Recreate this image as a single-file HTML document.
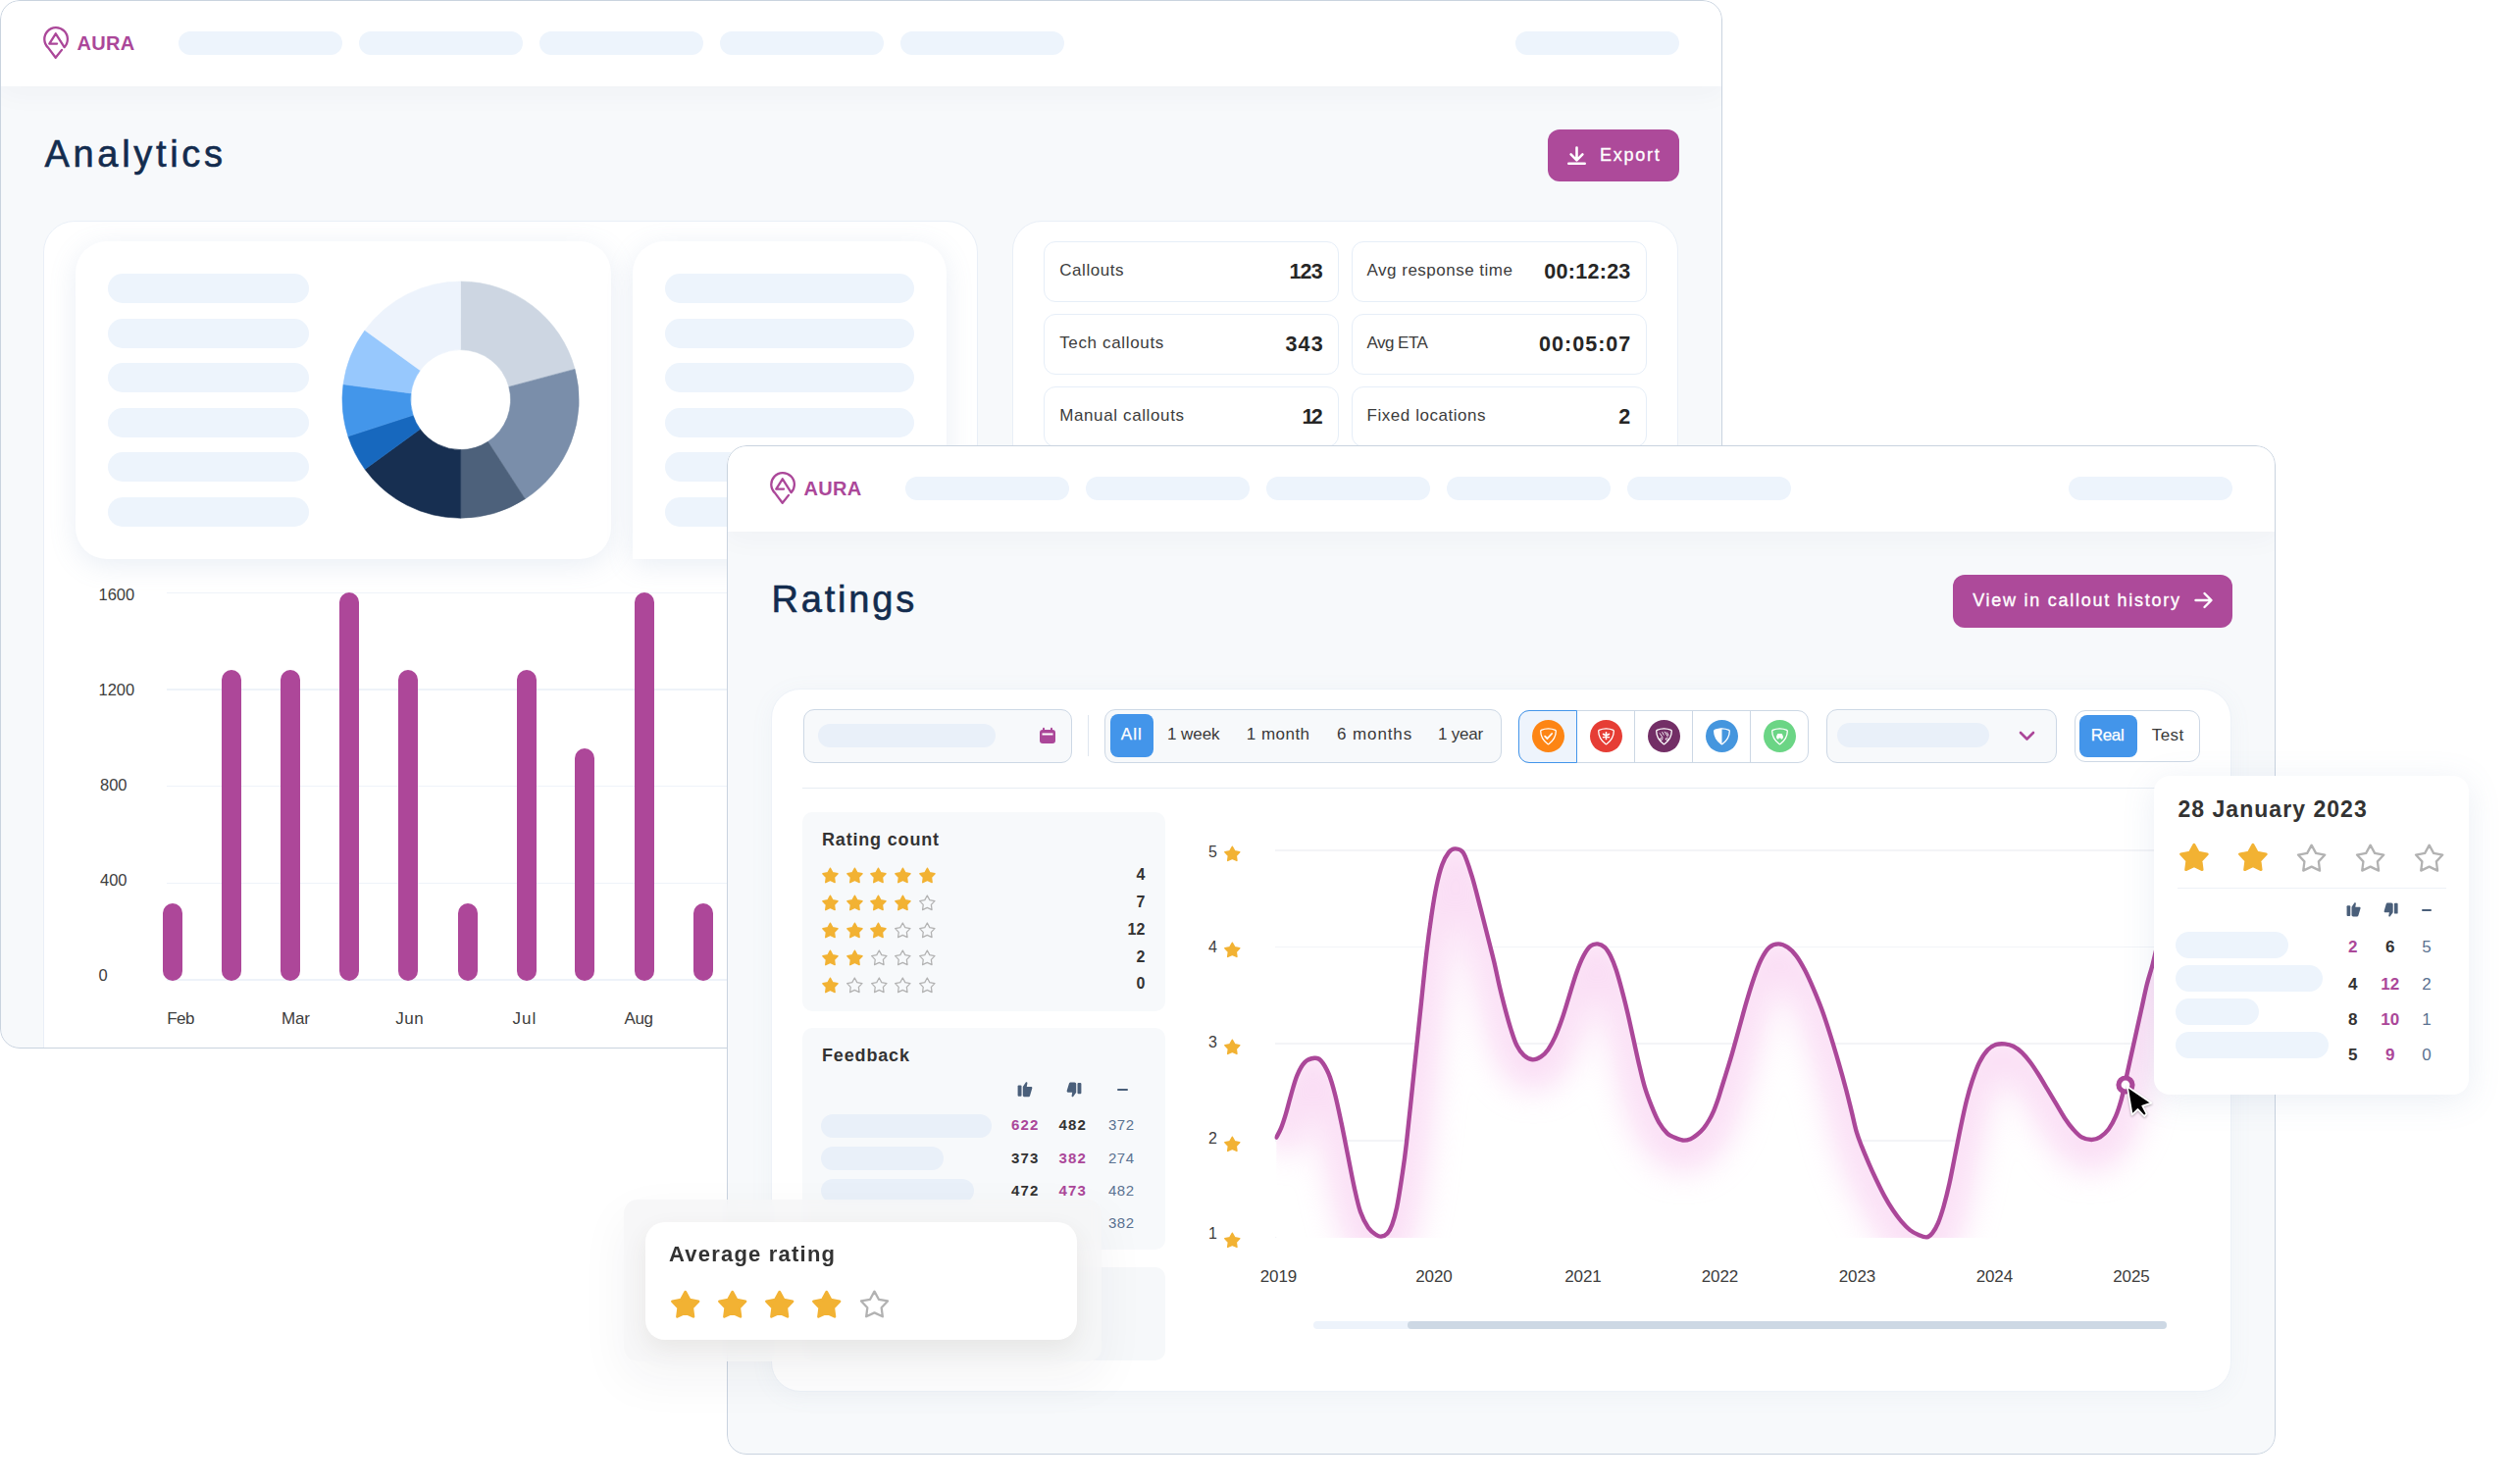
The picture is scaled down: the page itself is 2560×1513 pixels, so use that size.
<!DOCTYPE html>
<html><head><meta charset="utf-8"><title>Aura analytics</title>
<style>
*{box-sizing:border-box;margin:0;padding:0}
html,body{width:2560px;height:1513px;overflow:hidden;background:#fff}
body{position:relative;font-family:"Liberation Sans",Arial,sans-serif;}
.b{position:absolute;display:block}
.t{position:absolute;white-space:nowrap}
.win{position:absolute;overflow:hidden;border-radius:20px;background:#f7f9fb;isolation:isolate}
.wb{position:absolute;left:0;top:0;right:0;bottom:0;border:1.2px solid #c9d3df;border-radius:20px;pointer-events:none;z-index:50}
</style></head><body>

<div class="win" style="left:0px;top:0px;width:1756px;height:1069px;">
<div class="b" style="left:0px;top:0px;width:1756px;height:88px;background:#fff;box-shadow:0 6px 30px rgba(40,60,90,0.04);"></div>
<svg class="b" style="left:42px;top:26px;" width="30" height="36" viewBox="0 0 30 36"><path d="M21 24.9 L14.7 32.8 L7.1 22.6 A11.8 11.8 0 1 1 23.6 22.1 L14.8 8.3 L8.3 18.6 L16.1 18.6" fill="none" stroke="#ab4799" stroke-width="2.3" stroke-linejoin="round" stroke-linecap="round"/></svg>
<div class="t" style="left:78.5px;top:34.17px;font-size:20px;line-height:20px;color:#ab4799;font-weight:700;letter-spacing:0.32px;">AURA</div>
<div class="b" style="left:182px;top:32px;width:167px;height:24px;background:#edf4fc;border-radius:12px;"></div>
<div class="b" style="left:365.9px;top:32px;width:167px;height:24px;background:#edf4fc;border-radius:12px;"></div>
<div class="b" style="left:549.8px;top:32px;width:167px;height:24px;background:#edf4fc;border-radius:12px;"></div>
<div class="b" style="left:733.7px;top:32px;width:167px;height:24px;background:#edf4fc;border-radius:12px;"></div>
<div class="b" style="left:917.6px;top:32px;width:167px;height:24px;background:#edf4fc;border-radius:12px;"></div>
<div class="b" style="left:1545px;top:32px;width:167px;height:24px;background:#edf4fc;border-radius:12px;"></div>
<div class="t" style="left:45.5px;top:137.63px;font-size:38px;line-height:38px;color:#132c4e;letter-spacing:3.68px;-webkit-text-stroke:0.6px #132c4e;">Analytics</div>
<div class="b" style="left:1578px;top:132px;width:134px;height:53px;background:#ad4a9a;border-radius:12px;"></div>
<svg class="b" style="left:1596px;top:148px;" width="22" height="22" viewBox="0 0 22 22"><path d="M11.5 2.5V14.8M5.6 9.4L11.5 15.3L17.4 9.4M3.3 18.8H19.7" fill="none" stroke="#fff" stroke-width="2.6" stroke-linecap="round" stroke-linejoin="round"/></svg>
<div class="t" style="left:1631px;top:148.96px;font-size:18px;line-height:18px;color:#fff;letter-spacing:1.73px;-webkit-text-stroke:0.35px #fff;">Export</div>
<div class="b" style="left:44px;top:225px;width:953px;height:875px;background:#fff;border:1px solid #e9eff7;border-radius:32px;"></div>
<div class="b" style="left:77px;top:245.5px;width:546px;height:324px;background:#fff;border-radius:32px;box-shadow:0 6px 28px rgba(120,150,190,0.16);"></div>
<div class="b" style="left:645px;top:245.5px;width:320px;height:324px;background:#fff;border-radius:32px 32px 32px 0;box-shadow:0 6px 28px rgba(120,150,190,0.16);"></div>
<div class="b" style="left:109.7px;top:278.9px;width:205.6px;height:30px;background:#edf4fc;border-radius:15px;"></div>
<div class="b" style="left:677.6px;top:278.9px;width:254px;height:30px;background:#edf4fc;border-radius:15px;"></div>
<div class="b" style="left:109.7px;top:324.5px;width:205.6px;height:30px;background:#edf4fc;border-radius:15px;"></div>
<div class="b" style="left:677.6px;top:324.5px;width:254px;height:30px;background:#edf4fc;border-radius:15px;"></div>
<div class="b" style="left:109.7px;top:370.1px;width:205.6px;height:30px;background:#edf4fc;border-radius:15px;"></div>
<div class="b" style="left:677.6px;top:370.1px;width:254px;height:30px;background:#edf4fc;border-radius:15px;"></div>
<div class="b" style="left:109.7px;top:415.7px;width:205.6px;height:30px;background:#edf4fc;border-radius:15px;"></div>
<div class="b" style="left:677.6px;top:415.7px;width:254px;height:30px;background:#edf4fc;border-radius:15px;"></div>
<div class="b" style="left:109.7px;top:461.3px;width:205.6px;height:30px;background:#edf4fc;border-radius:15px;"></div>
<div class="b" style="left:677.6px;top:461.3px;width:254px;height:30px;background:#edf4fc;border-radius:15px;"></div>
<div class="b" style="left:109.7px;top:506.9px;width:205.6px;height:30px;background:#edf4fc;border-radius:15px;"></div>
<div class="b" style="left:677.6px;top:506.9px;width:254px;height:30px;background:#edf4fc;border-radius:15px;"></div>
<svg class="b" style="left:347.6px;top:285.8px;" width="243.2" height="243.2" viewBox="0 0 243.2 243.2"><path d="M121.60 1.00A120.60 120.60 0 0 1 238.09 90.39L170.86 108.40A51.00 51.00 0 0 0 121.60 70.60Z" fill="#cdd6e2" stroke="#cdd6e2" stroke-width="0.6"/><path d="M238.09 90.39A120.60 120.60 0 0 1 187.28 222.74L149.38 164.37A51.00 51.00 0 0 0 170.86 108.40Z" fill="#7a8eaa" stroke="#7a8eaa" stroke-width="0.6"/><path d="M187.28 222.74A120.60 120.60 0 0 1 121.60 242.20L121.60 172.60A51.00 51.00 0 0 0 149.38 164.37Z" fill="#4d617b" stroke="#4d617b" stroke-width="0.6"/><path d="M121.60 242.20A120.60 120.60 0 0 1 24.03 192.49L80.34 151.58A51.00 51.00 0 0 0 121.60 172.60Z" fill="#172f51" stroke="#172f51" stroke-width="0.6"/><path d="M24.03 192.49A120.60 120.60 0 0 1 6.90 158.87L73.10 137.36A51.00 51.00 0 0 0 80.34 151.58Z" fill="#1768be" stroke="#1768be" stroke-width="0.6"/><path d="M6.90 158.87A120.60 120.60 0 0 1 2.03 105.86L71.04 114.94A51.00 51.00 0 0 0 73.10 137.36Z" fill="#4396ea" stroke="#4396ea" stroke-width="0.6"/><path d="M2.03 105.86A120.60 120.60 0 0 1 24.03 50.71L80.34 91.62A51.00 51.00 0 0 0 71.04 114.94Z" fill="#97c8fd" stroke="#97c8fd" stroke-width="0.6"/><path d="M24.03 50.71A120.60 120.60 0 0 1 121.58 1.00L121.59 70.60A51.00 51.00 0 0 0 80.34 91.62Z" fill="#edf3fc" stroke="#edf3fc" stroke-width="0.6"/></svg>
<div class="b" style="left:170px;top:603.75px;width:820px;height:1.5px;background:#eef3f9;"></div>
<div class="b" style="left:170px;top:702.35px;width:820px;height:1.5px;background:#eef3f9;"></div>
<div class="b" style="left:170px;top:800.95px;width:820px;height:1.5px;background:#eef3f9;"></div>
<div class="b" style="left:170px;top:899.65px;width:820px;height:1.5px;background:#eef3f9;"></div>
<div class="b" style="left:170px;top:998.25px;width:820px;height:1.5px;background:#eef3f9;"></div>
<div class="t" style="left:100.5px;top:597.63px;font-size:16.5px;line-height:16.5px;color:#3d3d3d;">1600</div>
<div class="t" style="left:100.5px;top:694.73px;font-size:16.5px;line-height:16.5px;color:#3d3d3d;">1200</div>
<div class="t" style="left:102px;top:791.83px;font-size:16.5px;line-height:16.5px;color:#3d3d3d;">800</div>
<div class="t" style="left:102px;top:888.53px;font-size:16.5px;line-height:16.5px;color:#3d3d3d;">400</div>
<div class="t" style="left:100.5px;top:985.93px;font-size:16.5px;line-height:16.5px;color:#3d3d3d;">0</div>
<div class="b" style="left:166.3px;top:921px;width:20px;height:79px;background:#ad4799;border-radius:10px;"></div>
<div class="b" style="left:226.2px;top:683px;width:20px;height:317px;background:#ad4799;border-radius:10px;"></div>
<div class="b" style="left:286.1px;top:683px;width:20px;height:317px;background:#ad4799;border-radius:10px;"></div>
<div class="b" style="left:346.4px;top:604px;width:20px;height:396px;background:#ad4799;border-radius:10px;"></div>
<div class="b" style="left:406.3px;top:683px;width:20px;height:317px;background:#ad4799;border-radius:10px;"></div>
<div class="b" style="left:466.6px;top:921px;width:20px;height:79px;background:#ad4799;border-radius:10px;"></div>
<div class="b" style="left:526.5px;top:683px;width:20px;height:317px;background:#ad4799;border-radius:10px;"></div>
<div class="b" style="left:586.4px;top:763px;width:20px;height:237px;background:#ad4799;border-radius:10px;"></div>
<div class="b" style="left:646.7px;top:604px;width:20px;height:396px;background:#ad4799;border-radius:10px;"></div>
<div class="b" style="left:706.6px;top:921px;width:20px;height:79px;background:#ad4799;border-radius:10px;"></div>
<div class="t" style="left:170.3px;top:1029.91px;font-size:17px;line-height:17px;color:#3d3d3d;letter-spacing:-0.6px;">Feb</div>
<div class="t" style="left:287px;top:1029.91px;font-size:17px;line-height:17px;color:#3d3d3d;letter-spacing:-0.23px;">Mar</div>
<div class="t" style="left:403.3px;top:1029.91px;font-size:17px;line-height:17px;color:#3d3d3d;letter-spacing:0.5px;">Jun</div>
<div class="t" style="left:522.5px;top:1029.91px;font-size:17px;line-height:17px;color:#3d3d3d;letter-spacing:1.03px;">Jul</div>
<div class="t" style="left:636.4px;top:1029.91px;font-size:17px;line-height:17px;color:#3d3d3d;letter-spacing:-0.32px;">Aug</div>
<div class="b" style="left:1031.5px;top:225px;width:679.5px;height:875px;background:#fff;border:1px solid #e9eff7;border-radius:30px;"></div>
<div class="b" style="left:1064px;top:246px;width:301px;height:61.5px;background:#fff;border:1.3px solid #e6eef8;border-radius:12px;"></div>
<div class="b" style="left:1377.6px;top:246px;width:301px;height:61.5px;background:#fff;border:1.3px solid #e6eef8;border-radius:12px;"></div>
<div class="t" style="left:1080.2px;top:267.41px;font-size:17px;line-height:17px;color:#3c3c3c;letter-spacing:0.57px;">Callouts</div>
<div class="t" style="left:1393.6px;top:267.41px;font-size:17px;line-height:17px;color:#3c3c3c;letter-spacing:0.49px;">Avg response time</div>
<div class="t" style="left:1314.5px;top:267px;font-size:21.5px;line-height:21.5px;color:#262626;font-weight:700;letter-spacing:-0.88px;">123</div>
<div class="t" style="left:1574.3px;top:267px;font-size:21.5px;line-height:21.5px;color:#262626;font-weight:700;letter-spacing:0.28px;">00:12:23</div>
<div class="b" style="left:1064px;top:320px;width:301px;height:61.5px;background:#fff;border:1.3px solid #e6eef8;border-radius:12px;"></div>
<div class="b" style="left:1377.6px;top:320px;width:301px;height:61.5px;background:#fff;border:1.3px solid #e6eef8;border-radius:12px;"></div>
<div class="t" style="left:1080.2px;top:341.41px;font-size:17px;line-height:17px;color:#3c3c3c;letter-spacing:0.65px;">Tech callouts</div>
<div class="t" style="left:1393.6px;top:341.41px;font-size:17px;line-height:17px;color:#3c3c3c;letter-spacing:-0.55px;">Avg ETA</div>
<div class="t" style="left:1310.5px;top:341px;font-size:21.5px;line-height:21.5px;color:#262626;font-weight:700;letter-spacing:1.12px;">343</div>
<div class="t" style="left:1569.1px;top:341px;font-size:21.5px;line-height:21.5px;color:#262626;font-weight:700;letter-spacing:1.02px;">00:05:07</div>
<div class="b" style="left:1064px;top:394px;width:301px;height:61.5px;background:#fff;border:1.3px solid #e6eef8;border-radius:12px;"></div>
<div class="b" style="left:1377.6px;top:394px;width:301px;height:61.5px;background:#fff;border:1.3px solid #e6eef8;border-radius:12px;"></div>
<div class="t" style="left:1080.2px;top:415.41px;font-size:17px;line-height:17px;color:#3c3c3c;letter-spacing:0.62px;">Manual callouts</div>
<div class="t" style="left:1393.6px;top:415.41px;font-size:17px;line-height:17px;color:#3c3c3c;letter-spacing:0.54px;">Fixed locations</div>
<div class="t" style="left:1327.4px;top:415px;font-size:21.5px;line-height:21.5px;color:#262626;font-weight:700;letter-spacing:-2.71px;">12</div>
<div class="t" style="left:1650.35px;top:415px;font-size:21.5px;line-height:21.5px;color:#262626;font-weight:700;">2</div>
<div class="wb"></div></div>
<div class="win" style="left:741px;top:454px;width:1579px;height:1029px;">
<div class="b" style="left:0px;top:0px;width:1579px;height:88px;background:#fff;box-shadow:0 6px 30px rgba(40,60,90,0.04);"></div>
<svg class="b" style="left:42px;top:26px;" width="30" height="36" viewBox="0 0 30 36"><path d="M21 24.9 L14.7 32.8 L7.1 22.6 A11.8 11.8 0 1 1 23.6 22.1 L14.8 8.3 L8.3 18.6 L16.1 18.6" fill="none" stroke="#ab4799" stroke-width="2.3" stroke-linejoin="round" stroke-linecap="round"/></svg>
<div class="t" style="left:78.5px;top:34.17px;font-size:20px;line-height:20px;color:#ab4799;font-weight:700;letter-spacing:0.32px;">AURA</div>
<div class="b" style="left:182px;top:32px;width:167px;height:24px;background:#edf4fc;border-radius:12px;"></div>
<div class="b" style="left:365.9px;top:32px;width:167px;height:24px;background:#edf4fc;border-radius:12px;"></div>
<div class="b" style="left:549.8px;top:32px;width:167px;height:24px;background:#edf4fc;border-radius:12px;"></div>
<div class="b" style="left:733.7px;top:32px;width:167px;height:24px;background:#edf4fc;border-radius:12px;"></div>
<div class="b" style="left:917.6px;top:32px;width:167px;height:24px;background:#edf4fc;border-radius:12px;"></div>
<div class="b" style="left:1368px;top:32px;width:167px;height:24px;background:#edf4fc;border-radius:12px;"></div>
<div class="t" style="left:45.5px;top:137.63px;font-size:38px;line-height:38px;color:#132c4e;letter-spacing:2.82px;-webkit-text-stroke:0.6px #132c4e;">Ratings</div>
<div class="b" style="left:1250.2px;top:131.6px;width:285.3px;height:54.2px;background:#ad4a9a;border-radius:12px;"></div>
<div class="t" style="left:1270.2px;top:148.76px;font-size:18px;line-height:18px;color:#fff;letter-spacing:1.73px;-webkit-text-stroke:0.35px #fff;">View in callout history</div>
<svg class="b" style="left:1495px;top:146px;" width="21" height="24" viewBox="0 0 21 24"><path d="M2.5 12H18M11.5 5L18.5 12L11.5 19" fill="none" stroke="#fff" stroke-width="2.4" stroke-linecap="round" stroke-linejoin="round"/></svg>
<div class="b" style="left:45px;top:248px;width:1489px;height:717px;background:#fff;border:1px solid #edf2f8;border-radius:30px;box-shadow:0 4px 24px rgba(120,150,190,0.06);"></div>
<div class="b" style="left:78px;top:268.6px;width:274px;height:55px;background:#f7f9fb;border:1.8px solid #cdd8e5;border-radius:11px;"></div>
<div class="b" style="left:93.4px;top:283.5px;width:180.8px;height:24.9px;background:#e9f0f9;border-radius:13px;"></div>
<svg class="b" style="left:318px;top:287px;" width="18" height="18" viewBox="0 0 18 18"><rect x="1" y="3" width="16" height="14" rx="3" fill="#ab4799"/><rect x="3.5" y="6.5" width="11" height="2" fill="#fff"/><rect x="4" y="0.8" width="2" height="4" rx="1" fill="#ab4799"/><rect x="12" y="0.8" width="2" height="4" rx="1" fill="#ab4799"/></svg>
<div class="b" style="left:367.6px;top:274.8px;width:1.6px;height:42.6px;background:#dfe6ef;"></div>
<div class="b" style="left:385.4px;top:268.6px;width:404.5px;height:55px;background:#f7f9fb;border:1.8px solid #cdd8e5;border-radius:11px;"></div>
<div class="b" style="left:391px;top:274.2px;width:44px;height:43.8px;background:#4395ea;border-radius:8px;"></div>
<div class="t" style="left:401.8px;top:286.21px;font-size:17px;line-height:17px;color:#fff;letter-spacing:1px;-webkit-text-stroke:0.25px #fff;">All</div>
<div class="t" style="left:449px;top:286.21px;font-size:17px;line-height:17px;color:#3a3a3a;letter-spacing:-0.07px;">1 week</div>
<div class="t" style="left:529.8px;top:286.21px;font-size:17px;line-height:17px;color:#3a3a3a;letter-spacing:0.47px;">1 month</div>
<div class="t" style="left:622px;top:286.21px;font-size:17px;line-height:17px;color:#3a3a3a;letter-spacing:0.9px;">6 months</div>
<div class="t" style="left:725px;top:286.21px;font-size:17px;line-height:17px;color:#3a3a3a;letter-spacing:-0.21px;">1 year</div>
<div class="b" style="left:807px;top:269.5px;width:296px;height:54.2px;background:#fff;border:1.8px solid #cdd8e5;border-radius:11px;"></div>
<div class="b" style="left:807px;top:269.5px;width:60px;height:54.2px;background:#eef4fc;border:1.5px solid #4395ea;border-radius:11px 0 0 11px;"></div>
<div class="b" style="left:924.55px;top:270.5px;width:1.5px;height:52.2px;background:#ccd7e4;"></div>
<div class="b" style="left:983.65px;top:270.5px;width:1.5px;height:52.2px;background:#ccd7e4;"></div>
<div class="b" style="left:1042.75px;top:270.5px;width:1.5px;height:52.2px;background:#ccd7e4;"></div>
<svg class="b" style="left:820.7px;top:280.2px;" width="33" height="33" viewBox="0 0 33 33"><circle cx="16.5" cy="16.5" r="16.5" fill="#fd8514"/><g transform="translate(7.5 7.2)"><path d="M9 1.6C11.6 1.6 14 2.1 16.2 3.1C16.6 3.3 16.8 3.7 16.8 4.1C16.8 9.5 13.8 14.2 9.6 17.4C9.2 17.7 8.8 17.7 8.4 17.4C4.2 14.2 1.2 9.5 1.2 4.1C1.2 3.7 1.4 3.3 1.8 3.1C4 2.1 6.4 1.6 9 1.6Z" fill="none" stroke="#fff" stroke-width="1.3"/><path d="M5.6 9.4L8 11.8L12.6 6.8" fill="none" stroke="#fff" stroke-width="1.8" stroke-linecap="round" stroke-linejoin="round"/></g></svg>
<svg class="b" style="left:879.7px;top:280.2px;" width="33" height="33" viewBox="0 0 33 33"><circle cx="16.5" cy="16.5" r="16.5" fill="#e63d35"/><g transform="translate(7.5 7.2)"><path d="M9 1.6C11.6 1.6 14 2.1 16.2 3.1C16.6 3.3 16.8 3.7 16.8 4.1C16.8 9.5 13.8 14.2 9.6 17.4C9.2 17.7 8.8 17.7 8.4 17.4C4.2 14.2 1.2 9.5 1.2 4.1C1.2 3.7 1.4 3.3 1.8 3.1C4 2.1 6.4 1.6 9 1.6Z" fill="none" stroke="#fff" stroke-width="1.3"/><path d="M9 5.6V12.2M6.1 7.3L11.9 10.5M11.9 7.3L6.1 10.5" stroke="#fff" stroke-width="1.7" stroke-linecap="round"/></g></svg>
<svg class="b" style="left:938.7px;top:280.2px;" width="33" height="33" viewBox="0 0 33 33"><circle cx="16.5" cy="16.5" r="16.5" fill="#732e66"/><g transform="translate(7.5 7.2)"><path d="M9 1.6C11.6 1.6 14 2.1 16.2 3.1C16.6 3.3 16.8 3.7 16.8 4.1C16.8 9.5 13.8 14.2 9.6 17.4C9.2 17.7 8.8 17.7 8.4 17.4C4.2 14.2 1.2 9.5 1.2 4.1C1.2 3.7 1.4 3.3 1.8 3.1C4 2.1 6.4 1.6 9 1.6Z" fill="none" stroke="#fff" stroke-width="1.3"/><path d="M4.8 6.5L7.6 10.8M7.3 5.3L8.6 8M9.8 5L12.8 9.8M11.9 5.6L13.6 8.4M5 12.3A1.1 1.1 0 1 0 7.2 12.3A1.1 1.1 0 1 0 5 12.3M10.8 12.3A1.1 1.1 0 1 0 13 12.3A1.1 1.1 0 1 0 10.8 12.3" fill="none" stroke="#fff" stroke-width="0.9" stroke-linecap="round"/></g></svg>
<svg class="b" style="left:997.5px;top:280.2px;" width="33" height="33" viewBox="0 0 33 33"><circle cx="16.5" cy="16.5" r="16.5" fill="#4596de"/><g transform="translate(7.5 7.2)"><path d="M9 1.6C11.6 1.6 14 2.1 16.2 3.1C16.6 3.3 16.8 3.7 16.8 4.1C16.8 9.5 13.8 14.2 9.6 17.4C9.2 17.7 8.8 17.7 8.4 17.4C4.2 14.2 1.2 9.5 1.2 4.1C1.2 3.7 1.4 3.3 1.8 3.1C4 2.1 6.4 1.6 9 1.6Z" fill="none" stroke="#fff" stroke-width="1.3"/><path d="M9 1.6C6.4 1.6 4 2.1 1.8 3.1C1.4 3.3 1.2 3.7 1.2 4.1C1.2 9.5 4.2 14.2 8.4 17.4C8.6 17.55 8.8 17.6 9 17.6Z" fill="#fff"/></g></svg>
<svg class="b" style="left:1056.5px;top:280.2px;" width="33" height="33" viewBox="0 0 33 33"><circle cx="16.5" cy="16.5" r="16.5" fill="#6bd585"/><g transform="translate(7.5 7.2)"><path d="M9 1.6C11.6 1.6 14 2.1 16.2 3.1C16.6 3.3 16.8 3.7 16.8 4.1C16.8 9.5 13.8 14.2 9.6 17.4C9.2 17.7 8.8 17.7 8.4 17.4C4.2 14.2 1.2 9.5 1.2 4.1C1.2 3.7 1.4 3.3 1.8 3.1C4 2.1 6.4 1.6 9 1.6Z" fill="none" stroke="#fff" stroke-width="1.3"/><path d="M5.6 11.2V9.5L6.5 7.4C6.7 7 7 6.8 7.4 6.8H10.6C11 6.8 11.3 7 11.5 7.4L12.4 9.5V11.2Z" fill="#fff"/><circle cx="7.1" cy="11.4" r="1.1" fill="#fff"/><circle cx="10.9" cy="11.4" r="1.1" fill="#fff"/></g></svg>
<div class="b" style="left:1120.7px;top:269px;width:235.7px;height:55.3px;background:#f7f9fb;border:1.8px solid #cdd8e5;border-radius:11px;"></div>
<div class="b" style="left:1131.6px;top:283.3px;width:155.4px;height:24.9px;background:#e9f0f9;border-radius:13px;"></div>
<svg class="b" style="left:1316px;top:289px;" width="19" height="14" viewBox="0 0 19 14"><path d="M3 4L9.5 10.5L16 4" fill="none" stroke="#ab4799" stroke-width="2.6" stroke-linecap="round" stroke-linejoin="round"/></svg>
<div class="b" style="left:1374.2px;top:269.8px;width:127.8px;height:53.6px;background:#fff;border:1.8px solid #cdd8e5;border-radius:11px;"></div>
<div class="b" style="left:1378.8px;top:274.7px;width:59.6px;height:43.8px;background:#4395ea;border-radius:8px;"></div>
<div class="t" style="left:1390.8px;top:286.81px;font-size:17px;line-height:17px;color:#fff;letter-spacing:-0.36px;-webkit-text-stroke:0.25px #fff;">Real</div>
<div class="t" style="left:1452.8px;top:286.81px;font-size:17px;line-height:17px;color:#3a3a3a;letter-spacing:0.41px;">Test</div>
<div class="b" style="left:77px;top:348.6px;width:1425px;height:1.8px;background:#e8edf3;"></div>
<div class="b" style="left:76.8px;top:374.3px;width:370.1px;height:203px;background:#f7f9fb;border-radius:10px;"></div>
<div class="t" style="left:97px;top:393.46px;font-size:18px;line-height:18px;color:#333333;font-weight:700;letter-spacing:0.82px;">Rating count</div>
<svg class="b" style="left:94.16px;top:427.36px;" width="22.88" height="22.88" viewBox="0 0 22.88 22.88"><path d="M11.44 4.26L13.91 8.79L18.99 9.74L15.44 13.50L16.11 18.62L11.44 16.40L6.77 18.62L7.44 13.50L3.89 9.74L8.97 8.79Z" fill="#f2b233" stroke="#f2b233" stroke-width="1.50" stroke-linejoin="round"/></svg>
<svg class="b" style="left:118.81px;top:427.36px;" width="22.88" height="22.88" viewBox="0 0 22.88 22.88"><path d="M11.44 4.26L13.91 8.79L18.99 9.74L15.44 13.50L16.11 18.62L11.44 16.40L6.77 18.62L7.44 13.50L3.89 9.74L8.97 8.79Z" fill="#f2b233" stroke="#f2b233" stroke-width="1.50" stroke-linejoin="round"/></svg>
<svg class="b" style="left:143.46px;top:427.36px;" width="22.88" height="22.88" viewBox="0 0 22.88 22.88"><path d="M11.44 4.26L13.91 8.79L18.99 9.74L15.44 13.50L16.11 18.62L11.44 16.40L6.77 18.62L7.44 13.50L3.89 9.74L8.97 8.79Z" fill="#f2b233" stroke="#f2b233" stroke-width="1.50" stroke-linejoin="round"/></svg>
<svg class="b" style="left:168.11px;top:427.36px;" width="22.88" height="22.88" viewBox="0 0 22.88 22.88"><path d="M11.44 4.26L13.91 8.79L18.99 9.74L15.44 13.50L16.11 18.62L11.44 16.40L6.77 18.62L7.44 13.50L3.89 9.74L8.97 8.79Z" fill="#f2b233" stroke="#f2b233" stroke-width="1.50" stroke-linejoin="round"/></svg>
<svg class="b" style="left:192.76px;top:427.36px;" width="22.88" height="22.88" viewBox="0 0 22.88 22.88"><path d="M11.44 4.26L13.91 8.79L18.99 9.74L15.44 13.50L16.11 18.62L11.44 16.40L6.77 18.62L7.44 13.50L3.89 9.74L8.97 8.79Z" fill="#f2b233" stroke="#f2b233" stroke-width="1.50" stroke-linejoin="round"/></svg>
<div class="t" style="left:417.39px;top:429.85px;font-size:16px;line-height:16px;color:#333333;font-weight:700;">4</div>
<svg class="b" style="left:94.16px;top:455.36px;" width="22.88" height="22.88" viewBox="0 0 22.88 22.88"><path d="M11.44 4.26L13.91 8.79L18.99 9.74L15.44 13.50L16.11 18.62L11.44 16.40L6.77 18.62L7.44 13.50L3.89 9.74L8.97 8.79Z" fill="#f2b233" stroke="#f2b233" stroke-width="1.50" stroke-linejoin="round"/></svg>
<svg class="b" style="left:118.81px;top:455.36px;" width="22.88" height="22.88" viewBox="0 0 22.88 22.88"><path d="M11.44 4.26L13.91 8.79L18.99 9.74L15.44 13.50L16.11 18.62L11.44 16.40L6.77 18.62L7.44 13.50L3.89 9.74L8.97 8.79Z" fill="#f2b233" stroke="#f2b233" stroke-width="1.50" stroke-linejoin="round"/></svg>
<svg class="b" style="left:143.46px;top:455.36px;" width="22.88" height="22.88" viewBox="0 0 22.88 22.88"><path d="M11.44 4.26L13.91 8.79L18.99 9.74L15.44 13.50L16.11 18.62L11.44 16.40L6.77 18.62L7.44 13.50L3.89 9.74L8.97 8.79Z" fill="#f2b233" stroke="#f2b233" stroke-width="1.50" stroke-linejoin="round"/></svg>
<svg class="b" style="left:168.11px;top:455.36px;" width="22.88" height="22.88" viewBox="0 0 22.88 22.88"><path d="M11.44 4.26L13.91 8.79L18.99 9.74L15.44 13.50L16.11 18.62L11.44 16.40L6.77 18.62L7.44 13.50L3.89 9.74L8.97 8.79Z" fill="#f2b233" stroke="#f2b233" stroke-width="1.50" stroke-linejoin="round"/></svg>
<svg class="b" style="left:192.88px;top:455.48px;" width="22.64" height="22.64" viewBox="0 0 22.64 22.64"><path d="M11.32 4.02L13.83 8.63L19.00 9.60L15.39 13.41L16.06 18.62L11.32 16.37L6.58 18.62L7.25 13.41L3.64 9.60L8.81 8.63Z" fill="none" stroke="#b2b2b2" stroke-width="1.25" stroke-linejoin="round"/></svg>
<div class="t" style="left:417.39px;top:457.75px;font-size:16px;line-height:16px;color:#333333;font-weight:700;">7</div>
<svg class="b" style="left:94.16px;top:483.36px;" width="22.88" height="22.88" viewBox="0 0 22.88 22.88"><path d="M11.44 4.26L13.91 8.79L18.99 9.74L15.44 13.50L16.11 18.62L11.44 16.40L6.77 18.62L7.44 13.50L3.89 9.74L8.97 8.79Z" fill="#f2b233" stroke="#f2b233" stroke-width="1.50" stroke-linejoin="round"/></svg>
<svg class="b" style="left:118.81px;top:483.36px;" width="22.88" height="22.88" viewBox="0 0 22.88 22.88"><path d="M11.44 4.26L13.91 8.79L18.99 9.74L15.44 13.50L16.11 18.62L11.44 16.40L6.77 18.62L7.44 13.50L3.89 9.74L8.97 8.79Z" fill="#f2b233" stroke="#f2b233" stroke-width="1.50" stroke-linejoin="round"/></svg>
<svg class="b" style="left:143.46px;top:483.36px;" width="22.88" height="22.88" viewBox="0 0 22.88 22.88"><path d="M11.44 4.26L13.91 8.79L18.99 9.74L15.44 13.50L16.11 18.62L11.44 16.40L6.77 18.62L7.44 13.50L3.89 9.74L8.97 8.79Z" fill="#f2b233" stroke="#f2b233" stroke-width="1.50" stroke-linejoin="round"/></svg>
<svg class="b" style="left:168.23px;top:483.48px;" width="22.64" height="22.64" viewBox="0 0 22.64 22.64"><path d="M11.32 4.02L13.83 8.63L19.00 9.60L15.39 13.41L16.06 18.62L11.32 16.37L6.58 18.62L7.25 13.41L3.64 9.60L8.81 8.63Z" fill="none" stroke="#b2b2b2" stroke-width="1.25" stroke-linejoin="round"/></svg>
<svg class="b" style="left:192.88px;top:483.48px;" width="22.64" height="22.64" viewBox="0 0 22.64 22.64"><path d="M11.32 4.02L13.83 8.63L19.00 9.60L15.39 13.41L16.06 18.62L11.32 16.37L6.58 18.62L7.25 13.41L3.64 9.60L8.81 8.63Z" fill="none" stroke="#b2b2b2" stroke-width="1.25" stroke-linejoin="round"/></svg>
<div class="t" style="left:408.49px;top:485.65px;font-size:16px;line-height:16px;color:#333333;font-weight:700;">12</div>
<svg class="b" style="left:94.16px;top:511.36px;" width="22.88" height="22.88" viewBox="0 0 22.88 22.88"><path d="M11.44 4.26L13.91 8.79L18.99 9.74L15.44 13.50L16.11 18.62L11.44 16.40L6.77 18.62L7.44 13.50L3.89 9.74L8.97 8.79Z" fill="#f2b233" stroke="#f2b233" stroke-width="1.50" stroke-linejoin="round"/></svg>
<svg class="b" style="left:118.81px;top:511.36px;" width="22.88" height="22.88" viewBox="0 0 22.88 22.88"><path d="M11.44 4.26L13.91 8.79L18.99 9.74L15.44 13.50L16.11 18.62L11.44 16.40L6.77 18.62L7.44 13.50L3.89 9.74L8.97 8.79Z" fill="#f2b233" stroke="#f2b233" stroke-width="1.50" stroke-linejoin="round"/></svg>
<svg class="b" style="left:143.58px;top:511.48px;" width="22.64" height="22.64" viewBox="0 0 22.64 22.64"><path d="M11.32 4.02L13.83 8.63L19.00 9.60L15.39 13.41L16.06 18.62L11.32 16.37L6.58 18.62L7.25 13.41L3.64 9.60L8.81 8.63Z" fill="none" stroke="#b2b2b2" stroke-width="1.25" stroke-linejoin="round"/></svg>
<svg class="b" style="left:168.23px;top:511.48px;" width="22.64" height="22.64" viewBox="0 0 22.64 22.64"><path d="M11.32 4.02L13.83 8.63L19.00 9.60L15.39 13.41L16.06 18.62L11.32 16.37L6.58 18.62L7.25 13.41L3.64 9.60L8.81 8.63Z" fill="none" stroke="#b2b2b2" stroke-width="1.25" stroke-linejoin="round"/></svg>
<svg class="b" style="left:192.88px;top:511.48px;" width="22.64" height="22.64" viewBox="0 0 22.64 22.64"><path d="M11.32 4.02L13.83 8.63L19.00 9.60L15.39 13.41L16.06 18.62L11.32 16.37L6.58 18.62L7.25 13.41L3.64 9.60L8.81 8.63Z" fill="none" stroke="#b2b2b2" stroke-width="1.25" stroke-linejoin="round"/></svg>
<div class="t" style="left:417.39px;top:513.55px;font-size:16px;line-height:16px;color:#333333;font-weight:700;">2</div>
<svg class="b" style="left:94.16px;top:539.36px;" width="22.88" height="22.88" viewBox="0 0 22.88 22.88"><path d="M11.44 4.26L13.91 8.79L18.99 9.74L15.44 13.50L16.11 18.62L11.44 16.40L6.77 18.62L7.44 13.50L3.89 9.74L8.97 8.79Z" fill="#f2b233" stroke="#f2b233" stroke-width="1.50" stroke-linejoin="round"/></svg>
<svg class="b" style="left:118.93px;top:539.48px;" width="22.64" height="22.64" viewBox="0 0 22.64 22.64"><path d="M11.32 4.02L13.83 8.63L19.00 9.60L15.39 13.41L16.06 18.62L11.32 16.37L6.58 18.62L7.25 13.41L3.64 9.60L8.81 8.63Z" fill="none" stroke="#b2b2b2" stroke-width="1.25" stroke-linejoin="round"/></svg>
<svg class="b" style="left:143.58px;top:539.48px;" width="22.64" height="22.64" viewBox="0 0 22.64 22.64"><path d="M11.32 4.02L13.83 8.63L19.00 9.60L15.39 13.41L16.06 18.62L11.32 16.37L6.58 18.62L7.25 13.41L3.64 9.60L8.81 8.63Z" fill="none" stroke="#b2b2b2" stroke-width="1.25" stroke-linejoin="round"/></svg>
<svg class="b" style="left:168.23px;top:539.48px;" width="22.64" height="22.64" viewBox="0 0 22.64 22.64"><path d="M11.32 4.02L13.83 8.63L19.00 9.60L15.39 13.41L16.06 18.62L11.32 16.37L6.58 18.62L7.25 13.41L3.64 9.60L8.81 8.63Z" fill="none" stroke="#b2b2b2" stroke-width="1.25" stroke-linejoin="round"/></svg>
<svg class="b" style="left:192.88px;top:539.48px;" width="22.64" height="22.64" viewBox="0 0 22.64 22.64"><path d="M11.32 4.02L13.83 8.63L19.00 9.60L15.39 13.41L16.06 18.62L11.32 16.37L6.58 18.62L7.25 13.41L3.64 9.60L8.81 8.63Z" fill="none" stroke="#b2b2b2" stroke-width="1.25" stroke-linejoin="round"/></svg>
<div class="t" style="left:417.39px;top:541.45px;font-size:16px;line-height:16px;color:#333333;font-weight:700;">0</div>
<div class="b" style="left:76.8px;top:593.8px;width:370.1px;height:225.9px;background:#f7f9fb;border-radius:10px;"></div>
<div class="t" style="left:97px;top:612.86px;font-size:18px;line-height:18px;color:#333333;font-weight:700;letter-spacing:0.85px;">Feedback</div>
<svg class="b" style="left:296px;top:649.2px;" width="16" height="16" viewBox="0 0 16 16"><rect x="0.6" y="3.4" width="3.9" height="11.3" rx="1" fill="#4a5f7a"/><path d="M5.8 4.9L8.8 0.6C9.3 -0.1 10.6 0.3 10.4 1.3L9.8 4.9H14.2C15 4.9 15.6 5.7 15.3 6.5L13.1 13.9C12.9 14.6 12.3 15.2 11.5 15.2H7.6C6.6 15.2 5.8 14.4 5.8 13.4Z" fill="#4a5f7a"/></svg>
<svg class="b" style="left:346px;top:649.2px;" width="16" height="16" viewBox="0 0 16 16"><g transform="translate(16 15.6) scale(-1 -1)"><rect x="0.6" y="3.4" width="3.9" height="11.3" rx="1" fill="#4a5f7a"/><path d="M5.8 4.9L8.8 0.6C9.3 -0.1 10.6 0.3 10.4 1.3L9.8 4.9H14.2C15 4.9 15.6 5.7 15.3 6.5L13.1 13.9C12.9 14.6 12.3 15.2 11.5 15.2H7.6C6.6 15.2 5.8 14.4 5.8 13.4Z" fill="#4a5f7a"/></g></svg>
<div class="b" style="left:397.5px;top:656px;width:11.7px;height:2.1px;background:#4a5f7a;border-radius:1px;"></div>
<div class="b" style="left:96.2px;top:682.2px;width:173.8px;height:24.3px;background:#e9f0f9;border-radius:12px;"></div>
<div class="b" style="left:96.2px;top:714.6px;width:124.5px;height:24.3px;background:#e9f0f9;border-radius:12px;"></div>
<div class="b" style="left:96.2px;top:747.7px;width:155.8px;height:24.3px;background:#e9f0f9;border-radius:12px;"></div>
<div class="t" style="left:289.95px;top:685px;font-size:15px;line-height:15px;color:#ab4799;font-weight:700;letter-spacing:1.23px;">622</div>
<div class="t" style="left:338.45px;top:685px;font-size:15px;line-height:15px;color:#333333;font-weight:700;letter-spacing:1.23px;">482</div>
<div class="t" style="left:389px;top:685px;font-size:15px;line-height:15px;color:#5b7291;letter-spacing:0.48px;">372</div>
<div class="t" style="left:289.95px;top:718.9px;font-size:15px;line-height:15px;color:#333333;font-weight:700;letter-spacing:1.23px;">373</div>
<div class="t" style="left:338.45px;top:718.9px;font-size:15px;line-height:15px;color:#ab4799;font-weight:700;letter-spacing:1.23px;">382</div>
<div class="t" style="left:389px;top:718.9px;font-size:15px;line-height:15px;color:#5b7291;letter-spacing:0.48px;">274</div>
<div class="t" style="left:289.95px;top:752.1px;font-size:15px;line-height:15px;color:#333333;font-weight:700;letter-spacing:1.23px;">472</div>
<div class="t" style="left:338.45px;top:752.1px;font-size:15px;line-height:15px;color:#ab4799;font-weight:700;letter-spacing:1.23px;">473</div>
<div class="t" style="left:389px;top:752.1px;font-size:15px;line-height:15px;color:#5b7291;letter-spacing:0.48px;">482</div>
<div class="t" style="left:389px;top:785.3px;font-size:15px;line-height:15px;color:#5b7291;letter-spacing:0.48px;">382</div>
<div class="b" style="left:76.8px;top:837.7px;width:370.1px;height:95.1px;background:#f6f8fa;border-radius:10px;"></div>
<div class="b" style="left:558.5px;top:806.65px;width:943.5px;height:1.5px;background:#f3f4f7;"></div>
<div class="t" style="left:491.09px;top:796.05px;font-size:16px;line-height:16px;color:#3d3d3d;">1</div>
<svg class="b" style="left:504.27px;top:799.27px;" width="22.67" height="22.67" viewBox="0 0 22.67 22.67"><path d="M11.33 4.25L13.77 8.72L18.78 9.66L15.28 13.37L15.94 18.42L11.33 16.23L6.73 18.42L7.39 13.37L3.88 9.66L8.89 8.72Z" fill="#f2b233" stroke="#f2b233" stroke-width="1.50" stroke-linejoin="round"/></svg>
<div class="b" style="left:558.5px;top:708px;width:943.5px;height:1.5px;background:#f3f4f7;"></div>
<div class="t" style="left:491.09px;top:698.75px;font-size:16px;line-height:16px;color:#3d3d3d;">2</div>
<svg class="b" style="left:504.27px;top:700.62px;" width="22.67" height="22.67" viewBox="0 0 22.67 22.67"><path d="M11.33 4.25L13.77 8.72L18.78 9.66L15.28 13.37L15.94 18.42L11.33 16.23L6.73 18.42L7.39 13.37L3.88 9.66L8.89 8.72Z" fill="#f2b233" stroke="#f2b233" stroke-width="1.50" stroke-linejoin="round"/></svg>
<div class="b" style="left:558.5px;top:609.35px;width:943.5px;height:1.5px;background:#f3f4f7;"></div>
<div class="t" style="left:491.09px;top:601.45px;font-size:16px;line-height:16px;color:#3d3d3d;">3</div>
<svg class="b" style="left:504.27px;top:601.97px;" width="22.67" height="22.67" viewBox="0 0 22.67 22.67"><path d="M11.33 4.25L13.77 8.72L18.78 9.66L15.28 13.37L15.94 18.42L11.33 16.23L6.73 18.42L7.39 13.37L3.88 9.66L8.89 8.72Z" fill="#f2b233" stroke="#f2b233" stroke-width="1.50" stroke-linejoin="round"/></svg>
<div class="b" style="left:558.5px;top:510.7px;width:943.5px;height:1.5px;background:#f3f4f7;"></div>
<div class="t" style="left:491.09px;top:504.15px;font-size:16px;line-height:16px;color:#3d3d3d;">4</div>
<svg class="b" style="left:504.27px;top:503.32px;" width="22.67" height="22.67" viewBox="0 0 22.67 22.67"><path d="M11.33 4.25L13.77 8.72L18.78 9.66L15.28 13.37L15.94 18.42L11.33 16.23L6.73 18.42L7.39 13.37L3.88 9.66L8.89 8.72Z" fill="#f2b233" stroke="#f2b233" stroke-width="1.50" stroke-linejoin="round"/></svg>
<div class="b" style="left:558.5px;top:412.05px;width:943.5px;height:1.5px;background:#f3f4f7;"></div>
<div class="t" style="left:491.09px;top:406.85px;font-size:16px;line-height:16px;color:#3d3d3d;">5</div>
<svg class="b" style="left:504.27px;top:404.67px;" width="22.67" height="22.67" viewBox="0 0 22.67 22.67"><path d="M11.33 4.25L13.77 8.72L18.78 9.66L15.28 13.37L15.94 18.42L11.33 16.23L6.73 18.42L7.39 13.37L3.88 9.66L8.89 8.72Z" fill="#f2b233" stroke="#f2b233" stroke-width="1.50" stroke-linejoin="round"/></svg>
<div class="t" style="left:543.75px;top:838.91px;font-size:17px;line-height:17px;color:#3d3d3d;letter-spacing:-0.1px;">2019</div>
<div class="t" style="left:702.25px;top:838.91px;font-size:17px;line-height:17px;color:#3d3d3d;letter-spacing:-0.1px;">2020</div>
<div class="t" style="left:854.25px;top:838.91px;font-size:17px;line-height:17px;color:#3d3d3d;letter-spacing:-0.1px;">2021</div>
<div class="t" style="left:993.75px;top:838.91px;font-size:17px;line-height:17px;color:#3d3d3d;letter-spacing:-0.1px;">2022</div>
<div class="t" style="left:1133.75px;top:838.91px;font-size:17px;line-height:17px;color:#3d3d3d;letter-spacing:-0.1px;">2023</div>
<div class="t" style="left:1273.65px;top:838.91px;font-size:17px;line-height:17px;color:#3d3d3d;letter-spacing:-0.1px;">2024</div>
<div class="t" style="left:1413.25px;top:838.91px;font-size:17px;line-height:17px;color:#3d3d3d;letter-spacing:-0.1px;">2025</div>
<div class="b" style="left:598.3px;top:893.4px;width:869.7px;height:7.4px;background:#edf3fb;border-radius:4px;"></div>
<div class="b" style="left:694px;top:893.4px;width:774px;height:7.4px;background:#cdd8e4;border-radius:4px;"></div>
<svg class="b" style="left:-741px;top:-454px;overflow:visible" width="1" height="1" viewBox="0 0 1 1" preserveAspectRatio="none"><g transform="translate(0 0)"><defs><clipPath id="plot"><rect x="1299.5" y="840" width="943.5" height="430"/></clipPath><clipPath id="under"><path d="M1301.31 1159.61C1302.12 1157.99 1304.55 1153.95 1306.16 1149.91C1307.78 1145.87 1309.40 1140.75 1311.01 1135.36C1312.63 1129.97 1313.98 1124.05 1315.86 1117.58C1317.75 1111.12 1319.90 1102.36 1322.33 1096.57C1324.75 1090.78 1327.44 1085.79 1330.41 1082.83C1333.37 1079.87 1337.41 1079.06 1340.11 1078.79C1342.80 1078.52 1344.15 1078.52 1346.57 1081.22C1348.99 1083.91 1352.23 1089.16 1354.65 1094.95C1357.08 1100.75 1358.96 1107.61 1361.12 1115.97C1363.27 1124.32 1365.43 1134.82 1367.58 1145.06C1369.74 1155.30 1371.89 1166.61 1374.05 1177.38C1376.20 1188.16 1378.36 1200.01 1380.51 1209.71C1382.67 1219.41 1384.55 1228.57 1386.98 1235.57C1389.40 1242.58 1392.37 1247.83 1395.06 1251.73C1397.75 1255.64 1400.99 1257.53 1403.14 1259.01C1405.30 1260.49 1406.10 1260.89 1407.99 1260.62C1409.88 1260.35 1412.57 1259.41 1414.45 1257.39C1416.34 1255.37 1417.69 1252.95 1419.30 1248.50C1420.92 1244.06 1422.54 1238.53 1424.15 1230.72C1425.77 1222.91 1427.38 1212.40 1429.00 1201.63C1430.62 1190.85 1431.56 1186.05 1433.85 1166.07C1436.14 1146.09 1440.29 1104.98 1442.74 1081.75C1445.19 1058.52 1446.60 1045.06 1448.53 1026.71C1450.47 1008.36 1452.49 987.36 1454.33 971.67C1456.16 955.98 1457.85 943.91 1459.54 932.56C1461.23 921.21 1462.68 912.04 1464.47 903.59C1466.25 895.14 1468.18 887.61 1470.26 881.87C1472.34 876.12 1474.75 871.87 1476.92 869.12C1479.10 866.37 1480.79 865.26 1483.30 865.35C1485.81 865.45 1489.09 865.02 1491.99 869.70C1494.88 874.38 1497.78 884.09 1500.68 893.45C1503.57 902.82 1506.47 914.79 1509.37 925.90C1512.27 937.00 1515.76 951.00 1518.06 960.08C1520.36 969.16 1521.36 972.63 1523.17 980.36C1524.99 988.08 1527.04 998.22 1528.97 1006.43C1530.90 1014.64 1532.83 1022.36 1534.76 1029.61C1536.69 1036.85 1538.62 1043.85 1540.56 1049.88C1542.49 1055.92 1544.18 1061.47 1546.35 1065.82C1548.52 1070.16 1550.94 1073.54 1553.59 1075.96C1556.25 1078.37 1559.39 1080.06 1562.28 1080.30C1565.18 1080.54 1568.32 1079.09 1570.97 1077.40C1573.63 1075.71 1575.80 1073.54 1578.22 1070.16C1580.63 1066.78 1583.04 1062.44 1585.46 1057.13C1587.87 1051.82 1590.29 1045.30 1592.70 1038.30C1595.11 1031.30 1597.53 1022.85 1599.94 1015.12C1602.36 1007.40 1604.77 998.71 1607.18 991.95C1609.60 985.19 1612.01 979.15 1614.43 974.57C1616.84 969.98 1619.25 966.45 1621.67 964.43C1624.08 962.40 1626.50 962.16 1628.91 962.40C1631.32 962.64 1633.98 963.85 1636.15 965.87C1638.33 967.90 1640.02 970.70 1641.95 974.57C1643.88 978.43 1645.81 983.26 1647.74 989.05C1649.67 994.84 1651.60 1002.09 1653.53 1009.33C1655.47 1016.57 1657.40 1024.30 1659.33 1032.50C1661.26 1040.71 1663.19 1049.88 1665.12 1058.57C1667.05 1067.27 1668.98 1076.44 1670.92 1084.65C1672.85 1092.85 1674.54 1100.58 1676.71 1107.82C1678.88 1115.06 1681.54 1122.06 1683.95 1128.10C1686.37 1134.13 1688.54 1139.45 1691.19 1144.03C1693.85 1148.62 1697.29 1153.04 1699.88 1155.62C1702.47 1158.20 1704.14 1158.36 1706.74 1159.51C1709.34 1160.67 1712.69 1162.27 1715.50 1162.55C1718.31 1162.83 1721.11 1162.15 1723.58 1161.20C1726.06 1160.24 1728.08 1158.67 1730.32 1156.82C1732.57 1154.97 1735.04 1152.55 1737.06 1150.08C1739.08 1147.61 1740.77 1144.91 1742.45 1141.99C1744.14 1139.07 1745.71 1135.93 1747.17 1132.56C1748.63 1129.19 1749.98 1125.37 1751.21 1121.78C1752.45 1118.19 1753.46 1114.59 1754.58 1111.00C1755.71 1107.40 1756.83 1103.81 1757.95 1100.22C1759.07 1096.62 1759.94 1093.96 1761.32 1089.43C1762.70 1084.91 1764.19 1080.13 1766.21 1073.06C1768.23 1065.98 1771.04 1055.68 1773.45 1046.99C1775.87 1038.30 1778.28 1029.12 1780.70 1020.92C1783.11 1012.71 1785.52 1004.74 1787.94 997.74C1790.35 990.74 1792.52 984.22 1795.18 978.91C1797.84 973.60 1800.88 968.63 1803.87 965.87C1806.86 963.12 1810.00 962.40 1813.14 962.40C1816.28 962.40 1819.66 963.85 1822.70 965.87C1825.74 967.90 1828.49 970.70 1831.39 974.57C1834.29 978.43 1837.18 983.50 1840.08 989.05C1842.98 994.60 1845.87 1001.12 1848.77 1007.88C1851.67 1014.64 1854.57 1021.64 1857.46 1029.61C1860.36 1037.57 1863.26 1046.50 1866.15 1055.68C1869.05 1064.85 1872.19 1075.47 1874.84 1084.65C1877.50 1093.82 1879.91 1102.51 1882.09 1110.72C1884.26 1118.93 1886.09 1126.65 1887.88 1133.89C1889.67 1141.14 1891.11 1148.38 1892.80 1154.17C1894.49 1159.97 1895.94 1163.34 1898.02 1168.66C1900.09 1173.97 1902.85 1180.48 1905.26 1186.04C1907.67 1191.59 1909.85 1196.42 1912.50 1201.97C1915.16 1207.52 1918.30 1214.04 1921.19 1219.35C1924.09 1224.66 1926.99 1229.49 1929.88 1233.84C1932.78 1238.18 1935.68 1242.04 1938.57 1245.42C1941.47 1248.80 1944.37 1251.84 1947.27 1254.11C1950.16 1256.38 1953.11 1257.83 1955.96 1259.04C1958.80 1260.25 1961.98 1261.69 1964.35 1261.36C1966.71 1261.02 1968.21 1259.42 1970.14 1257.01C1972.07 1254.60 1974.00 1251.46 1975.93 1246.87C1977.86 1242.28 1979.80 1236.25 1981.73 1229.49C1983.66 1222.73 1985.59 1215.01 1987.52 1206.32C1989.45 1197.62 1991.38 1187.00 1993.31 1177.35C1995.25 1167.69 1997.18 1157.55 1999.11 1148.38C2001.04 1139.20 2002.97 1130.03 2004.90 1122.31C2006.83 1114.58 2008.52 1108.55 2010.70 1102.03C2012.87 1095.51 2015.28 1088.51 2017.94 1083.20C2020.59 1077.89 2023.73 1073.20 2026.63 1070.16C2029.52 1067.12 2032.42 1065.91 2035.32 1064.95C2038.22 1063.98 2041.11 1064.08 2044.01 1064.37C2046.91 1064.66 2049.80 1065.24 2052.70 1066.69C2055.60 1068.13 2058.49 1070.31 2061.39 1073.06C2064.29 1075.81 2067.18 1079.34 2070.08 1083.20C2072.98 1087.06 2075.87 1091.65 2078.77 1096.23C2081.67 1100.82 2084.57 1105.89 2087.46 1110.72C2090.36 1115.55 2093.26 1120.37 2096.15 1125.20C2099.05 1130.03 2101.95 1135.34 2104.84 1139.69C2107.74 1144.03 2110.64 1147.99 2113.53 1151.27C2116.43 1154.56 2119.09 1157.60 2122.22 1159.39C2125.36 1161.17 2129.23 1161.99 2132.36 1161.99C2135.50 1161.99 2138.16 1161.17 2141.05 1159.39C2143.95 1157.60 2147.09 1154.80 2149.75 1151.27C2152.40 1147.75 2154.81 1143.31 2156.99 1138.24C2159.16 1133.17 2161.24 1126.31 2162.78 1120.86C2164.33 1115.40 2164.81 1112.02 2166.26 1105.50C2167.71 1098.99 2169.64 1090.05 2171.47 1081.75C2173.31 1073.45 2175.33 1064.37 2177.27 1055.68C2179.20 1046.99 2181.13 1038.30 2183.06 1029.61C2184.99 1020.92 2186.92 1011.26 2188.85 1003.53C2190.78 995.81 2192.29 992.18 2194.65 983.26C2197.00 974.33 2199.94 960.21 2203.00 950.00C2206.06 939.79 2209.17 930.33 2213.00 922.00C2216.83 913.67 2221.00 906.17 2226.00 900.00C2231.00 893.83 2237.33 889.17 2243.00 885.00C2248.67 880.83 2257.17 876.67 2260.00 875.00L2260.00 1262L1301.31 1262Z"/></clipPath><filter id="bl" filterUnits="userSpaceOnUse" x="1200" y="780" width="1100" height="560"><feGaussianBlur stdDeviation="16"/></filter><linearGradient id="fg" x1="0" y1="0" x2="0" y2="1"><stop offset="0" stop-color="#fbe3f6" stop-opacity="0.7"/><stop offset="1" stop-color="#fff" stop-opacity="0"/></linearGradient></defs><g clip-path="url(#plot)"><path d="M1301.31 1159.61C1302.12 1157.99 1304.55 1153.95 1306.16 1149.91C1307.78 1145.87 1309.40 1140.75 1311.01 1135.36C1312.63 1129.97 1313.98 1124.05 1315.86 1117.58C1317.75 1111.12 1319.90 1102.36 1322.33 1096.57C1324.75 1090.78 1327.44 1085.79 1330.41 1082.83C1333.37 1079.87 1337.41 1079.06 1340.11 1078.79C1342.80 1078.52 1344.15 1078.52 1346.57 1081.22C1348.99 1083.91 1352.23 1089.16 1354.65 1094.95C1357.08 1100.75 1358.96 1107.61 1361.12 1115.97C1363.27 1124.32 1365.43 1134.82 1367.58 1145.06C1369.74 1155.30 1371.89 1166.61 1374.05 1177.38C1376.20 1188.16 1378.36 1200.01 1380.51 1209.71C1382.67 1219.41 1384.55 1228.57 1386.98 1235.57C1389.40 1242.58 1392.37 1247.83 1395.06 1251.73C1397.75 1255.64 1400.99 1257.53 1403.14 1259.01C1405.30 1260.49 1406.10 1260.89 1407.99 1260.62C1409.88 1260.35 1412.57 1259.41 1414.45 1257.39C1416.34 1255.37 1417.69 1252.95 1419.30 1248.50C1420.92 1244.06 1422.54 1238.53 1424.15 1230.72C1425.77 1222.91 1427.38 1212.40 1429.00 1201.63C1430.62 1190.85 1431.56 1186.05 1433.85 1166.07C1436.14 1146.09 1440.29 1104.98 1442.74 1081.75C1445.19 1058.52 1446.60 1045.06 1448.53 1026.71C1450.47 1008.36 1452.49 987.36 1454.33 971.67C1456.16 955.98 1457.85 943.91 1459.54 932.56C1461.23 921.21 1462.68 912.04 1464.47 903.59C1466.25 895.14 1468.18 887.61 1470.26 881.87C1472.34 876.12 1474.75 871.87 1476.92 869.12C1479.10 866.37 1480.79 865.26 1483.30 865.35C1485.81 865.45 1489.09 865.02 1491.99 869.70C1494.88 874.38 1497.78 884.09 1500.68 893.45C1503.57 902.82 1506.47 914.79 1509.37 925.90C1512.27 937.00 1515.76 951.00 1518.06 960.08C1520.36 969.16 1521.36 972.63 1523.17 980.36C1524.99 988.08 1527.04 998.22 1528.97 1006.43C1530.90 1014.64 1532.83 1022.36 1534.76 1029.61C1536.69 1036.85 1538.62 1043.85 1540.56 1049.88C1542.49 1055.92 1544.18 1061.47 1546.35 1065.82C1548.52 1070.16 1550.94 1073.54 1553.59 1075.96C1556.25 1078.37 1559.39 1080.06 1562.28 1080.30C1565.18 1080.54 1568.32 1079.09 1570.97 1077.40C1573.63 1075.71 1575.80 1073.54 1578.22 1070.16C1580.63 1066.78 1583.04 1062.44 1585.46 1057.13C1587.87 1051.82 1590.29 1045.30 1592.70 1038.30C1595.11 1031.30 1597.53 1022.85 1599.94 1015.12C1602.36 1007.40 1604.77 998.71 1607.18 991.95C1609.60 985.19 1612.01 979.15 1614.43 974.57C1616.84 969.98 1619.25 966.45 1621.67 964.43C1624.08 962.40 1626.50 962.16 1628.91 962.40C1631.32 962.64 1633.98 963.85 1636.15 965.87C1638.33 967.90 1640.02 970.70 1641.95 974.57C1643.88 978.43 1645.81 983.26 1647.74 989.05C1649.67 994.84 1651.60 1002.09 1653.53 1009.33C1655.47 1016.57 1657.40 1024.30 1659.33 1032.50C1661.26 1040.71 1663.19 1049.88 1665.12 1058.57C1667.05 1067.27 1668.98 1076.44 1670.92 1084.65C1672.85 1092.85 1674.54 1100.58 1676.71 1107.82C1678.88 1115.06 1681.54 1122.06 1683.95 1128.10C1686.37 1134.13 1688.54 1139.45 1691.19 1144.03C1693.85 1148.62 1697.29 1153.04 1699.88 1155.62C1702.47 1158.20 1704.14 1158.36 1706.74 1159.51C1709.34 1160.67 1712.69 1162.27 1715.50 1162.55C1718.31 1162.83 1721.11 1162.15 1723.58 1161.20C1726.06 1160.24 1728.08 1158.67 1730.32 1156.82C1732.57 1154.97 1735.04 1152.55 1737.06 1150.08C1739.08 1147.61 1740.77 1144.91 1742.45 1141.99C1744.14 1139.07 1745.71 1135.93 1747.17 1132.56C1748.63 1129.19 1749.98 1125.37 1751.21 1121.78C1752.45 1118.19 1753.46 1114.59 1754.58 1111.00C1755.71 1107.40 1756.83 1103.81 1757.95 1100.22C1759.07 1096.62 1759.94 1093.96 1761.32 1089.43C1762.70 1084.91 1764.19 1080.13 1766.21 1073.06C1768.23 1065.98 1771.04 1055.68 1773.45 1046.99C1775.87 1038.30 1778.28 1029.12 1780.70 1020.92C1783.11 1012.71 1785.52 1004.74 1787.94 997.74C1790.35 990.74 1792.52 984.22 1795.18 978.91C1797.84 973.60 1800.88 968.63 1803.87 965.87C1806.86 963.12 1810.00 962.40 1813.14 962.40C1816.28 962.40 1819.66 963.85 1822.70 965.87C1825.74 967.90 1828.49 970.70 1831.39 974.57C1834.29 978.43 1837.18 983.50 1840.08 989.05C1842.98 994.60 1845.87 1001.12 1848.77 1007.88C1851.67 1014.64 1854.57 1021.64 1857.46 1029.61C1860.36 1037.57 1863.26 1046.50 1866.15 1055.68C1869.05 1064.85 1872.19 1075.47 1874.84 1084.65C1877.50 1093.82 1879.91 1102.51 1882.09 1110.72C1884.26 1118.93 1886.09 1126.65 1887.88 1133.89C1889.67 1141.14 1891.11 1148.38 1892.80 1154.17C1894.49 1159.97 1895.94 1163.34 1898.02 1168.66C1900.09 1173.97 1902.85 1180.48 1905.26 1186.04C1907.67 1191.59 1909.85 1196.42 1912.50 1201.97C1915.16 1207.52 1918.30 1214.04 1921.19 1219.35C1924.09 1224.66 1926.99 1229.49 1929.88 1233.84C1932.78 1238.18 1935.68 1242.04 1938.57 1245.42C1941.47 1248.80 1944.37 1251.84 1947.27 1254.11C1950.16 1256.38 1953.11 1257.83 1955.96 1259.04C1958.80 1260.25 1961.98 1261.69 1964.35 1261.36C1966.71 1261.02 1968.21 1259.42 1970.14 1257.01C1972.07 1254.60 1974.00 1251.46 1975.93 1246.87C1977.86 1242.28 1979.80 1236.25 1981.73 1229.49C1983.66 1222.73 1985.59 1215.01 1987.52 1206.32C1989.45 1197.62 1991.38 1187.00 1993.31 1177.35C1995.25 1167.69 1997.18 1157.55 1999.11 1148.38C2001.04 1139.20 2002.97 1130.03 2004.90 1122.31C2006.83 1114.58 2008.52 1108.55 2010.70 1102.03C2012.87 1095.51 2015.28 1088.51 2017.94 1083.20C2020.59 1077.89 2023.73 1073.20 2026.63 1070.16C2029.52 1067.12 2032.42 1065.91 2035.32 1064.95C2038.22 1063.98 2041.11 1064.08 2044.01 1064.37C2046.91 1064.66 2049.80 1065.24 2052.70 1066.69C2055.60 1068.13 2058.49 1070.31 2061.39 1073.06C2064.29 1075.81 2067.18 1079.34 2070.08 1083.20C2072.98 1087.06 2075.87 1091.65 2078.77 1096.23C2081.67 1100.82 2084.57 1105.89 2087.46 1110.72C2090.36 1115.55 2093.26 1120.37 2096.15 1125.20C2099.05 1130.03 2101.95 1135.34 2104.84 1139.69C2107.74 1144.03 2110.64 1147.99 2113.53 1151.27C2116.43 1154.56 2119.09 1157.60 2122.22 1159.39C2125.36 1161.17 2129.23 1161.99 2132.36 1161.99C2135.50 1161.99 2138.16 1161.17 2141.05 1159.39C2143.95 1157.60 2147.09 1154.80 2149.75 1151.27C2152.40 1147.75 2154.81 1143.31 2156.99 1138.24C2159.16 1133.17 2161.24 1126.31 2162.78 1120.86C2164.33 1115.40 2164.81 1112.02 2166.26 1105.50C2167.71 1098.99 2169.64 1090.05 2171.47 1081.75C2173.31 1073.45 2175.33 1064.37 2177.27 1055.68C2179.20 1046.99 2181.13 1038.30 2183.06 1029.61C2184.99 1020.92 2186.92 1011.26 2188.85 1003.53C2190.78 995.81 2192.29 992.18 2194.65 983.26C2197.00 974.33 2199.94 960.21 2203.00 950.00C2206.06 939.79 2209.17 930.33 2213.00 922.00C2216.83 913.67 2221.00 906.17 2226.00 900.00C2231.00 893.83 2237.33 889.17 2243.00 885.00C2248.67 880.83 2257.17 876.67 2260.00 875.00L2260.00 1262L1301.31 1262Z" fill="#fff"/><g clip-path="url(#under)"><path d="M1301.31 1159.61C1302.12 1157.99 1304.55 1153.95 1306.16 1149.91C1307.78 1145.87 1309.40 1140.75 1311.01 1135.36C1312.63 1129.97 1313.98 1124.05 1315.86 1117.58C1317.75 1111.12 1319.90 1102.36 1322.33 1096.57C1324.75 1090.78 1327.44 1085.79 1330.41 1082.83C1333.37 1079.87 1337.41 1079.06 1340.11 1078.79C1342.80 1078.52 1344.15 1078.52 1346.57 1081.22C1348.99 1083.91 1352.23 1089.16 1354.65 1094.95C1357.08 1100.75 1358.96 1107.61 1361.12 1115.97C1363.27 1124.32 1365.43 1134.82 1367.58 1145.06C1369.74 1155.30 1371.89 1166.61 1374.05 1177.38C1376.20 1188.16 1378.36 1200.01 1380.51 1209.71C1382.67 1219.41 1384.55 1228.57 1386.98 1235.57C1389.40 1242.58 1392.37 1247.83 1395.06 1251.73C1397.75 1255.64 1400.99 1257.53 1403.14 1259.01C1405.30 1260.49 1406.10 1260.89 1407.99 1260.62C1409.88 1260.35 1412.57 1259.41 1414.45 1257.39C1416.34 1255.37 1417.69 1252.95 1419.30 1248.50C1420.92 1244.06 1422.54 1238.53 1424.15 1230.72C1425.77 1222.91 1427.38 1212.40 1429.00 1201.63C1430.62 1190.85 1431.56 1186.05 1433.85 1166.07C1436.14 1146.09 1440.29 1104.98 1442.74 1081.75C1445.19 1058.52 1446.60 1045.06 1448.53 1026.71C1450.47 1008.36 1452.49 987.36 1454.33 971.67C1456.16 955.98 1457.85 943.91 1459.54 932.56C1461.23 921.21 1462.68 912.04 1464.47 903.59C1466.25 895.14 1468.18 887.61 1470.26 881.87C1472.34 876.12 1474.75 871.87 1476.92 869.12C1479.10 866.37 1480.79 865.26 1483.30 865.35C1485.81 865.45 1489.09 865.02 1491.99 869.70C1494.88 874.38 1497.78 884.09 1500.68 893.45C1503.57 902.82 1506.47 914.79 1509.37 925.90C1512.27 937.00 1515.76 951.00 1518.06 960.08C1520.36 969.16 1521.36 972.63 1523.17 980.36C1524.99 988.08 1527.04 998.22 1528.97 1006.43C1530.90 1014.64 1532.83 1022.36 1534.76 1029.61C1536.69 1036.85 1538.62 1043.85 1540.56 1049.88C1542.49 1055.92 1544.18 1061.47 1546.35 1065.82C1548.52 1070.16 1550.94 1073.54 1553.59 1075.96C1556.25 1078.37 1559.39 1080.06 1562.28 1080.30C1565.18 1080.54 1568.32 1079.09 1570.97 1077.40C1573.63 1075.71 1575.80 1073.54 1578.22 1070.16C1580.63 1066.78 1583.04 1062.44 1585.46 1057.13C1587.87 1051.82 1590.29 1045.30 1592.70 1038.30C1595.11 1031.30 1597.53 1022.85 1599.94 1015.12C1602.36 1007.40 1604.77 998.71 1607.18 991.95C1609.60 985.19 1612.01 979.15 1614.43 974.57C1616.84 969.98 1619.25 966.45 1621.67 964.43C1624.08 962.40 1626.50 962.16 1628.91 962.40C1631.32 962.64 1633.98 963.85 1636.15 965.87C1638.33 967.90 1640.02 970.70 1641.95 974.57C1643.88 978.43 1645.81 983.26 1647.74 989.05C1649.67 994.84 1651.60 1002.09 1653.53 1009.33C1655.47 1016.57 1657.40 1024.30 1659.33 1032.50C1661.26 1040.71 1663.19 1049.88 1665.12 1058.57C1667.05 1067.27 1668.98 1076.44 1670.92 1084.65C1672.85 1092.85 1674.54 1100.58 1676.71 1107.82C1678.88 1115.06 1681.54 1122.06 1683.95 1128.10C1686.37 1134.13 1688.54 1139.45 1691.19 1144.03C1693.85 1148.62 1697.29 1153.04 1699.88 1155.62C1702.47 1158.20 1704.14 1158.36 1706.74 1159.51C1709.34 1160.67 1712.69 1162.27 1715.50 1162.55C1718.31 1162.83 1721.11 1162.15 1723.58 1161.20C1726.06 1160.24 1728.08 1158.67 1730.32 1156.82C1732.57 1154.97 1735.04 1152.55 1737.06 1150.08C1739.08 1147.61 1740.77 1144.91 1742.45 1141.99C1744.14 1139.07 1745.71 1135.93 1747.17 1132.56C1748.63 1129.19 1749.98 1125.37 1751.21 1121.78C1752.45 1118.19 1753.46 1114.59 1754.58 1111.00C1755.71 1107.40 1756.83 1103.81 1757.95 1100.22C1759.07 1096.62 1759.94 1093.96 1761.32 1089.43C1762.70 1084.91 1764.19 1080.13 1766.21 1073.06C1768.23 1065.98 1771.04 1055.68 1773.45 1046.99C1775.87 1038.30 1778.28 1029.12 1780.70 1020.92C1783.11 1012.71 1785.52 1004.74 1787.94 997.74C1790.35 990.74 1792.52 984.22 1795.18 978.91C1797.84 973.60 1800.88 968.63 1803.87 965.87C1806.86 963.12 1810.00 962.40 1813.14 962.40C1816.28 962.40 1819.66 963.85 1822.70 965.87C1825.74 967.90 1828.49 970.70 1831.39 974.57C1834.29 978.43 1837.18 983.50 1840.08 989.05C1842.98 994.60 1845.87 1001.12 1848.77 1007.88C1851.67 1014.64 1854.57 1021.64 1857.46 1029.61C1860.36 1037.57 1863.26 1046.50 1866.15 1055.68C1869.05 1064.85 1872.19 1075.47 1874.84 1084.65C1877.50 1093.82 1879.91 1102.51 1882.09 1110.72C1884.26 1118.93 1886.09 1126.65 1887.88 1133.89C1889.67 1141.14 1891.11 1148.38 1892.80 1154.17C1894.49 1159.97 1895.94 1163.34 1898.02 1168.66C1900.09 1173.97 1902.85 1180.48 1905.26 1186.04C1907.67 1191.59 1909.85 1196.42 1912.50 1201.97C1915.16 1207.52 1918.30 1214.04 1921.19 1219.35C1924.09 1224.66 1926.99 1229.49 1929.88 1233.84C1932.78 1238.18 1935.68 1242.04 1938.57 1245.42C1941.47 1248.80 1944.37 1251.84 1947.27 1254.11C1950.16 1256.38 1953.11 1257.83 1955.96 1259.04C1958.80 1260.25 1961.98 1261.69 1964.35 1261.36C1966.71 1261.02 1968.21 1259.42 1970.14 1257.01C1972.07 1254.60 1974.00 1251.46 1975.93 1246.87C1977.86 1242.28 1979.80 1236.25 1981.73 1229.49C1983.66 1222.73 1985.59 1215.01 1987.52 1206.32C1989.45 1197.62 1991.38 1187.00 1993.31 1177.35C1995.25 1167.69 1997.18 1157.55 1999.11 1148.38C2001.04 1139.20 2002.97 1130.03 2004.90 1122.31C2006.83 1114.58 2008.52 1108.55 2010.70 1102.03C2012.87 1095.51 2015.28 1088.51 2017.94 1083.20C2020.59 1077.89 2023.73 1073.20 2026.63 1070.16C2029.52 1067.12 2032.42 1065.91 2035.32 1064.95C2038.22 1063.98 2041.11 1064.08 2044.01 1064.37C2046.91 1064.66 2049.80 1065.24 2052.70 1066.69C2055.60 1068.13 2058.49 1070.31 2061.39 1073.06C2064.29 1075.81 2067.18 1079.34 2070.08 1083.20C2072.98 1087.06 2075.87 1091.65 2078.77 1096.23C2081.67 1100.82 2084.57 1105.89 2087.46 1110.72C2090.36 1115.55 2093.26 1120.37 2096.15 1125.20C2099.05 1130.03 2101.95 1135.34 2104.84 1139.69C2107.74 1144.03 2110.64 1147.99 2113.53 1151.27C2116.43 1154.56 2119.09 1157.60 2122.22 1159.39C2125.36 1161.17 2129.23 1161.99 2132.36 1161.99C2135.50 1161.99 2138.16 1161.17 2141.05 1159.39C2143.95 1157.60 2147.09 1154.80 2149.75 1151.27C2152.40 1147.75 2154.81 1143.31 2156.99 1138.24C2159.16 1133.17 2161.24 1126.31 2162.78 1120.86C2164.33 1115.40 2164.81 1112.02 2166.26 1105.50C2167.71 1098.99 2169.64 1090.05 2171.47 1081.75C2173.31 1073.45 2175.33 1064.37 2177.27 1055.68C2179.20 1046.99 2181.13 1038.30 2183.06 1029.61C2184.99 1020.92 2186.92 1011.26 2188.85 1003.53C2190.78 995.81 2192.29 992.18 2194.65 983.26C2197.00 974.33 2199.94 960.21 2203.00 950.00C2206.06 939.79 2209.17 930.33 2213.00 922.00C2216.83 913.67 2221.00 906.17 2226.00 900.00C2231.00 893.83 2237.33 889.17 2243.00 885.00C2248.67 880.83 2257.17 876.67 2260.00 875.00" fill="none" stroke="#f6bdeb" stroke-width="44" filter="url(#bl)" opacity="0.5" transform="translate(0 10)"/></g><path d="M1301.31 1159.61C1302.12 1157.99 1304.55 1153.95 1306.16 1149.91C1307.78 1145.87 1309.40 1140.75 1311.01 1135.36C1312.63 1129.97 1313.98 1124.05 1315.86 1117.58C1317.75 1111.12 1319.90 1102.36 1322.33 1096.57C1324.75 1090.78 1327.44 1085.79 1330.41 1082.83C1333.37 1079.87 1337.41 1079.06 1340.11 1078.79C1342.80 1078.52 1344.15 1078.52 1346.57 1081.22C1348.99 1083.91 1352.23 1089.16 1354.65 1094.95C1357.08 1100.75 1358.96 1107.61 1361.12 1115.97C1363.27 1124.32 1365.43 1134.82 1367.58 1145.06C1369.74 1155.30 1371.89 1166.61 1374.05 1177.38C1376.20 1188.16 1378.36 1200.01 1380.51 1209.71C1382.67 1219.41 1384.55 1228.57 1386.98 1235.57C1389.40 1242.58 1392.37 1247.83 1395.06 1251.73C1397.75 1255.64 1400.99 1257.53 1403.14 1259.01C1405.30 1260.49 1406.10 1260.89 1407.99 1260.62C1409.88 1260.35 1412.57 1259.41 1414.45 1257.39C1416.34 1255.37 1417.69 1252.95 1419.30 1248.50C1420.92 1244.06 1422.54 1238.53 1424.15 1230.72C1425.77 1222.91 1427.38 1212.40 1429.00 1201.63C1430.62 1190.85 1431.56 1186.05 1433.85 1166.07C1436.14 1146.09 1440.29 1104.98 1442.74 1081.75C1445.19 1058.52 1446.60 1045.06 1448.53 1026.71C1450.47 1008.36 1452.49 987.36 1454.33 971.67C1456.16 955.98 1457.85 943.91 1459.54 932.56C1461.23 921.21 1462.68 912.04 1464.47 903.59C1466.25 895.14 1468.18 887.61 1470.26 881.87C1472.34 876.12 1474.75 871.87 1476.92 869.12C1479.10 866.37 1480.79 865.26 1483.30 865.35C1485.81 865.45 1489.09 865.02 1491.99 869.70C1494.88 874.38 1497.78 884.09 1500.68 893.45C1503.57 902.82 1506.47 914.79 1509.37 925.90C1512.27 937.00 1515.76 951.00 1518.06 960.08C1520.36 969.16 1521.36 972.63 1523.17 980.36C1524.99 988.08 1527.04 998.22 1528.97 1006.43C1530.90 1014.64 1532.83 1022.36 1534.76 1029.61C1536.69 1036.85 1538.62 1043.85 1540.56 1049.88C1542.49 1055.92 1544.18 1061.47 1546.35 1065.82C1548.52 1070.16 1550.94 1073.54 1553.59 1075.96C1556.25 1078.37 1559.39 1080.06 1562.28 1080.30C1565.18 1080.54 1568.32 1079.09 1570.97 1077.40C1573.63 1075.71 1575.80 1073.54 1578.22 1070.16C1580.63 1066.78 1583.04 1062.44 1585.46 1057.13C1587.87 1051.82 1590.29 1045.30 1592.70 1038.30C1595.11 1031.30 1597.53 1022.85 1599.94 1015.12C1602.36 1007.40 1604.77 998.71 1607.18 991.95C1609.60 985.19 1612.01 979.15 1614.43 974.57C1616.84 969.98 1619.25 966.45 1621.67 964.43C1624.08 962.40 1626.50 962.16 1628.91 962.40C1631.32 962.64 1633.98 963.85 1636.15 965.87C1638.33 967.90 1640.02 970.70 1641.95 974.57C1643.88 978.43 1645.81 983.26 1647.74 989.05C1649.67 994.84 1651.60 1002.09 1653.53 1009.33C1655.47 1016.57 1657.40 1024.30 1659.33 1032.50C1661.26 1040.71 1663.19 1049.88 1665.12 1058.57C1667.05 1067.27 1668.98 1076.44 1670.92 1084.65C1672.85 1092.85 1674.54 1100.58 1676.71 1107.82C1678.88 1115.06 1681.54 1122.06 1683.95 1128.10C1686.37 1134.13 1688.54 1139.45 1691.19 1144.03C1693.85 1148.62 1697.29 1153.04 1699.88 1155.62C1702.47 1158.20 1704.14 1158.36 1706.74 1159.51C1709.34 1160.67 1712.69 1162.27 1715.50 1162.55C1718.31 1162.83 1721.11 1162.15 1723.58 1161.20C1726.06 1160.24 1728.08 1158.67 1730.32 1156.82C1732.57 1154.97 1735.04 1152.55 1737.06 1150.08C1739.08 1147.61 1740.77 1144.91 1742.45 1141.99C1744.14 1139.07 1745.71 1135.93 1747.17 1132.56C1748.63 1129.19 1749.98 1125.37 1751.21 1121.78C1752.45 1118.19 1753.46 1114.59 1754.58 1111.00C1755.71 1107.40 1756.83 1103.81 1757.95 1100.22C1759.07 1096.62 1759.94 1093.96 1761.32 1089.43C1762.70 1084.91 1764.19 1080.13 1766.21 1073.06C1768.23 1065.98 1771.04 1055.68 1773.45 1046.99C1775.87 1038.30 1778.28 1029.12 1780.70 1020.92C1783.11 1012.71 1785.52 1004.74 1787.94 997.74C1790.35 990.74 1792.52 984.22 1795.18 978.91C1797.84 973.60 1800.88 968.63 1803.87 965.87C1806.86 963.12 1810.00 962.40 1813.14 962.40C1816.28 962.40 1819.66 963.85 1822.70 965.87C1825.74 967.90 1828.49 970.70 1831.39 974.57C1834.29 978.43 1837.18 983.50 1840.08 989.05C1842.98 994.60 1845.87 1001.12 1848.77 1007.88C1851.67 1014.64 1854.57 1021.64 1857.46 1029.61C1860.36 1037.57 1863.26 1046.50 1866.15 1055.68C1869.05 1064.85 1872.19 1075.47 1874.84 1084.65C1877.50 1093.82 1879.91 1102.51 1882.09 1110.72C1884.26 1118.93 1886.09 1126.65 1887.88 1133.89C1889.67 1141.14 1891.11 1148.38 1892.80 1154.17C1894.49 1159.97 1895.94 1163.34 1898.02 1168.66C1900.09 1173.97 1902.85 1180.48 1905.26 1186.04C1907.67 1191.59 1909.85 1196.42 1912.50 1201.97C1915.16 1207.52 1918.30 1214.04 1921.19 1219.35C1924.09 1224.66 1926.99 1229.49 1929.88 1233.84C1932.78 1238.18 1935.68 1242.04 1938.57 1245.42C1941.47 1248.80 1944.37 1251.84 1947.27 1254.11C1950.16 1256.38 1953.11 1257.83 1955.96 1259.04C1958.80 1260.25 1961.98 1261.69 1964.35 1261.36C1966.71 1261.02 1968.21 1259.42 1970.14 1257.01C1972.07 1254.60 1974.00 1251.46 1975.93 1246.87C1977.86 1242.28 1979.80 1236.25 1981.73 1229.49C1983.66 1222.73 1985.59 1215.01 1987.52 1206.32C1989.45 1197.62 1991.38 1187.00 1993.31 1177.35C1995.25 1167.69 1997.18 1157.55 1999.11 1148.38C2001.04 1139.20 2002.97 1130.03 2004.90 1122.31C2006.83 1114.58 2008.52 1108.55 2010.70 1102.03C2012.87 1095.51 2015.28 1088.51 2017.94 1083.20C2020.59 1077.89 2023.73 1073.20 2026.63 1070.16C2029.52 1067.12 2032.42 1065.91 2035.32 1064.95C2038.22 1063.98 2041.11 1064.08 2044.01 1064.37C2046.91 1064.66 2049.80 1065.24 2052.70 1066.69C2055.60 1068.13 2058.49 1070.31 2061.39 1073.06C2064.29 1075.81 2067.18 1079.34 2070.08 1083.20C2072.98 1087.06 2075.87 1091.65 2078.77 1096.23C2081.67 1100.82 2084.57 1105.89 2087.46 1110.72C2090.36 1115.55 2093.26 1120.37 2096.15 1125.20C2099.05 1130.03 2101.95 1135.34 2104.84 1139.69C2107.74 1144.03 2110.64 1147.99 2113.53 1151.27C2116.43 1154.56 2119.09 1157.60 2122.22 1159.39C2125.36 1161.17 2129.23 1161.99 2132.36 1161.99C2135.50 1161.99 2138.16 1161.17 2141.05 1159.39C2143.95 1157.60 2147.09 1154.80 2149.75 1151.27C2152.40 1147.75 2154.81 1143.31 2156.99 1138.24C2159.16 1133.17 2161.24 1126.31 2162.78 1120.86C2164.33 1115.40 2164.81 1112.02 2166.26 1105.50C2167.71 1098.99 2169.64 1090.05 2171.47 1081.75C2173.31 1073.45 2175.33 1064.37 2177.27 1055.68C2179.20 1046.99 2181.13 1038.30 2183.06 1029.61C2184.99 1020.92 2186.92 1011.26 2188.85 1003.53C2190.78 995.81 2192.29 992.18 2194.65 983.26C2197.00 974.33 2199.94 960.21 2203.00 950.00C2206.06 939.79 2209.17 930.33 2213.00 922.00C2216.83 913.67 2221.00 906.17 2226.00 900.00C2231.00 893.83 2237.33 889.17 2243.00 885.00C2248.67 880.83 2257.17 876.67 2260.00 875.00" fill="none" stroke="#ab4799" stroke-width="4.4" stroke-linejoin="round" stroke-linecap="round"/></g></g></svg>
<div class="wb"></div></div>
<svg class="b" style="left:2154.7px;top:1093.5px;" width="24" height="24" viewBox="0 0 24 24"><circle cx="12" cy="12" r="7" fill="#fff" stroke="#ab4799" stroke-width="5.2"/></svg>
<div class="b" style="left:636px;top:1223px;width:486.5px;height:165px;background:rgba(245,245,246,0.78);border-radius:14px;box-shadow:0 18px 50px rgba(40,40,60,0.05);backdrop-filter:blur(6px);"></div>
<div class="b" style="left:658px;top:1245.8px;width:440.3px;height:120.3px;background:#fff;border-radius:20px;box-shadow:0 10px 24px rgba(80,70,50,0.085);"></div>
<div class="t" style="left:682px;top:1268.47px;font-size:22px;line-height:22px;color:#333333;font-weight:700;letter-spacing:1.21px;">Average rating</div>
<svg class="b" style="left:679.87px;top:1310.87px;" width="37.47" height="37.47" viewBox="0 0 37.47 37.47"><path d="M18.73 6.13L23.07 14.09L31.98 15.76L25.76 22.35L26.92 31.34L18.73 27.45L10.54 31.34L11.71 22.35L5.48 15.76L14.39 14.09Z" fill="#f2b233" stroke="#f2b233" stroke-width="2.80" stroke-linejoin="round"/></svg>
<svg class="b" style="left:728.07px;top:1310.87px;" width="37.47" height="37.47" viewBox="0 0 37.47 37.47"><path d="M18.73 6.13L23.07 14.09L31.98 15.76L25.76 22.35L26.92 31.34L18.73 27.45L10.54 31.34L11.71 22.35L5.48 15.76L14.39 14.09Z" fill="#f2b233" stroke="#f2b233" stroke-width="2.80" stroke-linejoin="round"/></svg>
<svg class="b" style="left:776.27px;top:1310.87px;" width="37.47" height="37.47" viewBox="0 0 37.47 37.47"><path d="M18.73 6.13L23.07 14.09L31.98 15.76L25.76 22.35L26.92 31.34L18.73 27.45L10.54 31.34L11.71 22.35L5.48 15.76L14.39 14.09Z" fill="#f2b233" stroke="#f2b233" stroke-width="2.80" stroke-linejoin="round"/></svg>
<svg class="b" style="left:824.47px;top:1310.87px;" width="37.47" height="37.47" viewBox="0 0 37.47 37.47"><path d="M18.73 6.13L23.07 14.09L31.98 15.76L25.76 22.35L26.92 31.34L18.73 27.45L10.54 31.34L11.71 22.35L5.48 15.76L14.39 14.09Z" fill="#f2b233" stroke="#f2b233" stroke-width="2.80" stroke-linejoin="round"/></svg>
<svg class="b" style="left:872.9px;top:1311.1px;" width="36.99" height="36.99" viewBox="0 0 36.99 36.99"><path d="M18.50 5.66L22.92 13.76L32.00 15.46L25.65 22.18L26.84 31.34L18.50 27.37L10.15 31.34L11.34 22.18L4.99 15.46L14.07 13.76Z" fill="none" stroke="#b2b2b2" stroke-width="2.30" stroke-linejoin="round"/></svg>
<div class="b" style="left:2195.6px;top:791.3px;width:321.9px;height:324.4px;background:#fff;border-radius:16px;box-shadow:0 6px 34px rgba(100,130,180,0.13);"></div>
<div class="t" style="left:2220.4px;top:814.23px;font-size:23px;line-height:23px;color:#333333;font-weight:700;letter-spacing:1.04px;">28 January 2023</div>
<svg class="b" style="left:2217.51px;top:855.41px;" width="37.78" height="37.78" viewBox="0 0 37.78 37.78"><path d="M18.89 6.15L23.28 14.19L32.29 15.88L25.99 22.54L27.17 31.64L18.89 27.70L10.61 31.64L11.79 22.54L5.49 15.88L14.50 14.19Z" fill="#f2b233" stroke="#f2b233" stroke-width="2.80" stroke-linejoin="round"/></svg>
<svg class="b" style="left:2277.61px;top:855.41px;" width="37.78" height="37.78" viewBox="0 0 37.78 37.78"><path d="M18.89 6.15L23.28 14.19L32.29 15.88L25.99 22.54L27.17 31.64L18.89 27.70L10.61 31.64L11.79 22.54L5.49 15.88L14.50 14.19Z" fill="#f2b233" stroke="#f2b233" stroke-width="2.80" stroke-linejoin="round"/></svg>
<svg class="b" style="left:2337.95px;top:855.65px;" width="37.31" height="37.31" viewBox="0 0 37.31 37.31"><path d="M18.65 5.67L23.12 13.87L32.30 15.59L25.89 22.37L27.09 31.64L18.65 27.63L10.22 31.64L11.42 22.37L5.00 15.59L14.18 13.87Z" fill="none" stroke="#b2b2b2" stroke-width="2.30" stroke-linejoin="round"/></svg>
<svg class="b" style="left:2398.05px;top:855.65px;" width="37.31" height="37.31" viewBox="0 0 37.31 37.31"><path d="M18.65 5.67L23.12 13.87L32.30 15.59L25.89 22.37L27.09 31.64L18.65 27.63L10.22 31.64L11.42 22.37L5.00 15.59L14.18 13.87Z" fill="none" stroke="#b2b2b2" stroke-width="2.30" stroke-linejoin="round"/></svg>
<svg class="b" style="left:2458.15px;top:855.65px;" width="37.31" height="37.31" viewBox="0 0 37.31 37.31"><path d="M18.65 5.67L23.12 13.87L32.30 15.59L25.89 22.37L27.09 31.64L18.65 27.63L10.22 31.64L11.42 22.37L5.00 15.59L14.18 13.87Z" fill="none" stroke="#b2b2b2" stroke-width="2.30" stroke-linejoin="round"/></svg>
<div class="b" style="left:2219.6px;top:904.5px;width:274.2px;height:1.2px;background:#eef2f7;"></div>
<svg class="b" style="left:2392.2px;top:920.2px;" width="15.2" height="15.2" viewBox="0 0 16 16"><rect x="0.6" y="3.4" width="3.9" height="11.3" rx="1" fill="#4a5f7a"/><path d="M5.8 4.9L8.8 0.6C9.3 -0.1 10.6 0.3 10.4 1.3L9.8 4.9H14.2C15 4.9 15.6 5.7 15.3 6.5L13.1 13.9C12.9 14.6 12.3 15.2 11.5 15.2H7.6C6.6 15.2 5.8 14.4 5.8 13.4Z" fill="#4a5f7a"/></svg>
<svg class="b" style="left:2429.8px;top:920.2px;" width="15.2" height="15.2" viewBox="0 0 16 16"><g transform="translate(16 15.6) scale(-1 -1)"><rect x="0.6" y="3.4" width="3.9" height="11.3" rx="1" fill="#4a5f7a"/><path d="M5.8 4.9L8.8 0.6C9.3 -0.1 10.6 0.3 10.4 1.3L9.8 4.9H14.2C15 4.9 15.6 5.7 15.3 6.5L13.1 13.9C12.9 14.6 12.3 15.2 11.5 15.2H7.6C6.6 15.2 5.8 14.4 5.8 13.4Z" fill="#4a5f7a"/></g></svg>
<div class="b" style="left:2469px;top:926.8px;width:9.5px;height:2px;background:#4a5f7a;border-radius:1px;"></div>
<div class="b" style="left:2218px;top:950px;width:115.2px;height:27px;background:#edf4fc;border-radius:13.5px;"></div>
<div class="b" style="left:2218px;top:984.2px;width:149.6px;height:27px;background:#edf4fc;border-radius:13.5px;"></div>
<div class="b" style="left:2218px;top:1018px;width:84.8px;height:27px;background:#edf4fc;border-radius:13.5px;"></div>
<div class="b" style="left:2218px;top:1052px;width:156.4px;height:27px;background:#edf4fc;border-radius:13.5px;"></div>
<div class="t" style="left:2393.97px;top:957.11px;font-size:17px;line-height:17px;color:#ab4799;font-weight:700;">2</div>
<div class="t" style="left:2432.07px;top:957.11px;font-size:17px;line-height:17px;color:#333333;font-weight:700;">6</div>
<div class="t" style="left:2469.17px;top:957.11px;font-size:17px;line-height:17px;color:#5b7291;">5</div>
<div class="t" style="left:2393.97px;top:994.71px;font-size:17px;line-height:17px;color:#333333;font-weight:700;">4</div>
<div class="t" style="left:2427.35px;top:994.71px;font-size:17px;line-height:17px;color:#ab4799;font-weight:700;">12</div>
<div class="t" style="left:2469.17px;top:994.71px;font-size:17px;line-height:17px;color:#5b7291;">2</div>
<div class="t" style="left:2393.97px;top:1031.11px;font-size:17px;line-height:17px;color:#333333;font-weight:700;">8</div>
<div class="t" style="left:2427.35px;top:1031.11px;font-size:17px;line-height:17px;color:#ab4799;font-weight:700;">10</div>
<div class="t" style="left:2469.17px;top:1031.11px;font-size:17px;line-height:17px;color:#5b7291;">1</div>
<div class="t" style="left:2393.97px;top:1067.41px;font-size:17px;line-height:17px;color:#333333;font-weight:700;">5</div>
<div class="t" style="left:2432.07px;top:1067.41px;font-size:17px;line-height:17px;color:#ab4799;font-weight:700;">9</div>
<div class="t" style="left:2469.17px;top:1067.41px;font-size:17px;line-height:17px;color:#5b7291;">0</div>
<svg class="b" style="left:2164px;top:1104px;" width="34" height="40" viewBox="0 0 34 40"><path d="M4.8 3.8L9.7 32.6L15.6 27L22.2 34L24.6 31.7L20.3 23.6L29.3 20.6Z" fill="#000" stroke="#fff" stroke-width="1.8" stroke-linejoin="round" style="filter:drop-shadow(0 1px 1px rgba(0,0,0,0.3))"/></svg>
</body></html>
